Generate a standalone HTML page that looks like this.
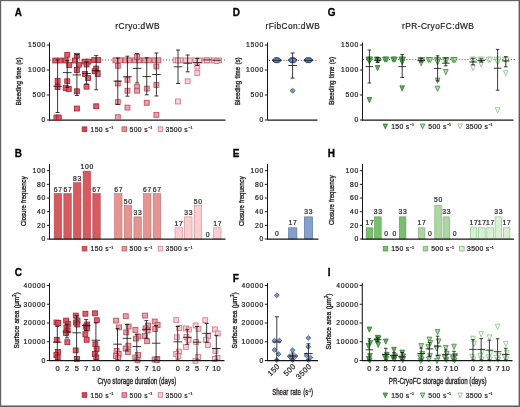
<!DOCTYPE html>
<html><head><meta charset="utf-8"><style>
html,body{margin:0;padding:0;background:#fff;}
body{width:520px;height:407px;overflow:hidden;position:relative;font-family:"Liberation Sans", sans-serif;}
svg{position:absolute;left:0;top:0;display:block;will-change:transform;}
</style></head><body>
<svg width="520" height="407" viewBox="0 0 520 407" font-family='"Liberation Sans", sans-serif'>
<style>text{stroke:#231f20;stroke-width:0.22px;} text.ttl{stroke-width:0.34px;}</style>
<rect x="0" y="0" width="520" height="407" fill="#fff"/>
<text transform="translate(14.7,15.7) scale(0.98,1)" font-size="10.2" font-weight="bold" fill="#000" style="stroke:#000;stroke-width:0.3px">A</text>
<text transform="translate(232.7,15.7) scale(0.98,1)" font-size="10.2" font-weight="bold" fill="#000" style="stroke:#000;stroke-width:0.3px">D</text>
<text transform="translate(327.7,15.7) scale(0.98,1)" font-size="10.2" font-weight="bold" fill="#000" style="stroke:#000;stroke-width:0.3px">G</text>
<text transform="translate(14.7,156.7) scale(0.98,1)" font-size="10.2" font-weight="bold" fill="#000" style="stroke:#000;stroke-width:0.3px">B</text>
<text transform="translate(232.7,156.7) scale(0.98,1)" font-size="10.2" font-weight="bold" fill="#000" style="stroke:#000;stroke-width:0.3px">E</text>
<text transform="translate(327.7,156.7) scale(0.98,1)" font-size="10.2" font-weight="bold" fill="#000" style="stroke:#000;stroke-width:0.3px">H</text>
<text transform="translate(14.7,275.7) scale(0.98,1)" font-size="10.2" font-weight="bold" fill="#000" style="stroke:#000;stroke-width:0.3px">C</text>
<text transform="translate(232.7,281.59999999999997) scale(0.98,1)" font-size="10.2" font-weight="bold" fill="#000" style="stroke:#000;stroke-width:0.3px">F</text>
<text transform="translate(327.7,275.7) scale(0.98,1)" font-size="10.2" font-weight="bold" fill="#000" style="stroke:#000;stroke-width:0.3px">I</text>
<text x="137.6" y="29.4" font-size="8.3" text-anchor="middle" font-weight="normal" fill="#231f20" letter-spacing="0.45">rCryo:dWB</text>
<text x="292.8" y="29.4" font-size="8.3" text-anchor="middle" font-weight="normal" fill="#231f20" letter-spacing="0.45">rFibCon:dWB</text>
<text x="438.2" y="29.4" font-size="8.3" text-anchor="middle" font-weight="normal" fill="#231f20" letter-spacing="0.45">rPR-CryoFC:dWB</text>
<line x1="49.5" y1="42.5" x2="49.5" y2="120.5" stroke="#151515" stroke-width="1.05" />
<line x1="46.8" y1="120.0" x2="49.5" y2="120.0" stroke="#151515" stroke-width="0.95" />
<text x="46.1" y="122.4" font-size="6.8" text-anchor="end" font-weight="normal" fill="#231f20" letter-spacing="0.75">0</text>
<line x1="46.8" y1="95.0" x2="49.5" y2="95.0" stroke="#151515" stroke-width="0.95" />
<text x="46.1" y="97.4" font-size="6.8" text-anchor="end" font-weight="normal" fill="#231f20" letter-spacing="0.75">500</text>
<line x1="46.8" y1="70.0" x2="49.5" y2="70.0" stroke="#151515" stroke-width="0.95" />
<text x="46.1" y="72.4" font-size="6.8" text-anchor="end" font-weight="normal" fill="#231f20" letter-spacing="0.75">1000</text>
<line x1="46.8" y1="45.0" x2="49.5" y2="45.0" stroke="#151515" stroke-width="0.95" />
<text x="46.1" y="47.4" font-size="6.8" text-anchor="end" font-weight="normal" fill="#231f20" letter-spacing="0.75">1500</text>
<text transform="translate(21.1,81.4) rotate(-90) scale(0.822,1)" font-size="7.6" text-anchor="middle" fill="#231f20" class="ttl" word-spacing="0.6">Bleeding time (s)</text>
<line x1="49.0" y1="120" x2="225.5" y2="120" stroke="#151515" stroke-width="1.25" />
<line x1="50" y1="60" x2="226.5" y2="60" stroke="#231f20" stroke-width="0.8" stroke-dasharray="1 1.9"/>
<line x1="267.5" y1="42.5" x2="267.5" y2="120.5" stroke="#151515" stroke-width="1.05" />
<line x1="264.8" y1="120.0" x2="267.5" y2="120.0" stroke="#151515" stroke-width="0.95" />
<text x="264.1" y="122.4" font-size="6.8" text-anchor="end" font-weight="normal" fill="#231f20" letter-spacing="0.75">0</text>
<line x1="264.8" y1="95.0" x2="267.5" y2="95.0" stroke="#151515" stroke-width="0.95" />
<text x="264.1" y="97.4" font-size="6.8" text-anchor="end" font-weight="normal" fill="#231f20" letter-spacing="0.75">500</text>
<line x1="264.8" y1="70.0" x2="267.5" y2="70.0" stroke="#151515" stroke-width="0.95" />
<text x="264.1" y="72.4" font-size="6.8" text-anchor="end" font-weight="normal" fill="#231f20" letter-spacing="0.75">1000</text>
<line x1="264.8" y1="45.0" x2="267.5" y2="45.0" stroke="#151515" stroke-width="0.95" />
<text x="264.1" y="47.4" font-size="6.8" text-anchor="end" font-weight="normal" fill="#231f20" letter-spacing="0.75">1500</text>
<text transform="translate(239.9,81.2) rotate(-90) scale(0.822,1)" font-size="7.6" text-anchor="middle" fill="#231f20" class="ttl" word-spacing="0.6">Bleeding time (s)</text>
<line x1="268.0" y1="120" x2="317.5" y2="120" stroke="#151515" stroke-width="1.25" />
<line x1="269" y1="60.4" x2="318" y2="60.4" stroke="#231f20" stroke-width="0.8" stroke-dasharray="1 1.9"/>
<line x1="362.5" y1="42.5" x2="362.5" y2="120.5" stroke="#151515" stroke-width="1.05" />
<line x1="359.8" y1="120.0" x2="362.5" y2="120.0" stroke="#151515" stroke-width="0.95" />
<text x="359.1" y="122.4" font-size="6.8" text-anchor="end" font-weight="normal" fill="#231f20" letter-spacing="0.75">0</text>
<line x1="359.8" y1="95.0" x2="362.5" y2="95.0" stroke="#151515" stroke-width="0.95" />
<text x="359.1" y="97.4" font-size="6.8" text-anchor="end" font-weight="normal" fill="#231f20" letter-spacing="0.75">500</text>
<line x1="359.8" y1="70.0" x2="362.5" y2="70.0" stroke="#151515" stroke-width="0.95" />
<text x="359.1" y="72.4" font-size="6.8" text-anchor="end" font-weight="normal" fill="#231f20" letter-spacing="0.75">1000</text>
<line x1="359.8" y1="45.0" x2="362.5" y2="45.0" stroke="#151515" stroke-width="0.95" />
<text x="359.1" y="47.4" font-size="6.8" text-anchor="end" font-weight="normal" fill="#231f20" letter-spacing="0.75">1500</text>
<text transform="translate(334.3,80.8) rotate(-90) scale(0.822,1)" font-size="7.6" text-anchor="middle" fill="#231f20" class="ttl" word-spacing="0.6">Bleeding time (s)</text>
<line x1="362.0" y1="120" x2="513.5" y2="120" stroke="#151515" stroke-width="1.25" />
<line x1="363" y1="59.6" x2="516" y2="59.6" stroke="#231f20" stroke-width="0.8" stroke-dasharray="1 1.9"/>
<rect x="52.75" y="58.05" width="4.9" height="4.9" fill="#da4352" stroke="#a32534" stroke-width="0.85" fill-opacity="0.85"/>
<rect x="57.55" y="58.05" width="4.9" height="4.9" fill="#da4352" stroke="#a32534" stroke-width="0.85" fill-opacity="0.85"/>
<rect x="55.15" y="78.55" width="4.9" height="4.9" fill="#da4352" stroke="#a32534" stroke-width="0.85" fill-opacity="0.85"/>
<rect x="55.15" y="84.55" width="4.9" height="4.9" fill="#da4352" stroke="#a32534" stroke-width="0.85" fill-opacity="0.85"/>
<rect x="53.95" y="115.05" width="4.9" height="4.9" fill="#da4352" stroke="#a32534" stroke-width="0.85" fill-opacity="0.85"/>
<rect x="56.35" y="115.05" width="4.9" height="4.9" fill="#da4352" stroke="#a32534" stroke-width="0.85" fill-opacity="0.85"/>
<rect x="64.80" y="52.35" width="4.9" height="4.9" fill="#da4352" stroke="#a32534" stroke-width="0.85" fill-opacity="0.85"/>
<rect x="63.30" y="58.05" width="4.9" height="4.9" fill="#da4352" stroke="#a32534" stroke-width="0.85" fill-opacity="0.85"/>
<rect x="66.80" y="62.55" width="4.9" height="4.9" fill="#da4352" stroke="#a32534" stroke-width="0.85" fill-opacity="0.85"/>
<rect x="64.80" y="78.85" width="4.9" height="4.9" fill="#da4352" stroke="#a32534" stroke-width="0.85" fill-opacity="0.85"/>
<rect x="63.30" y="85.55" width="4.9" height="4.9" fill="#da4352" stroke="#a32534" stroke-width="0.85" fill-opacity="0.85"/>
<rect x="66.30" y="86.55" width="4.9" height="4.9" fill="#da4352" stroke="#a32534" stroke-width="0.85" fill-opacity="0.85"/>
<rect x="74.45" y="53.45" width="4.9" height="4.9" fill="#da4352" stroke="#a32534" stroke-width="0.85" fill-opacity="0.85"/>
<rect x="72.45" y="58.05" width="4.9" height="4.9" fill="#da4352" stroke="#a32534" stroke-width="0.85" fill-opacity="0.85"/>
<rect x="76.45" y="62.25" width="4.9" height="4.9" fill="#da4352" stroke="#a32534" stroke-width="0.85" fill-opacity="0.85"/>
<rect x="74.45" y="67.55" width="4.9" height="4.9" fill="#da4352" stroke="#a32534" stroke-width="0.85" fill-opacity="0.85"/>
<rect x="74.45" y="88.85" width="4.9" height="4.9" fill="#da4352" stroke="#a32534" stroke-width="0.85" fill-opacity="0.85"/>
<rect x="74.45" y="106.05" width="4.9" height="4.9" fill="#da4352" stroke="#a32534" stroke-width="0.85" fill-opacity="0.85"/>
<rect x="82.10" y="59.15" width="4.9" height="4.9" fill="#da4352" stroke="#a32534" stroke-width="0.85" fill-opacity="0.85"/>
<rect x="86.10" y="59.15" width="4.9" height="4.9" fill="#da4352" stroke="#a32534" stroke-width="0.85" fill-opacity="0.85"/>
<rect x="84.10" y="62.05" width="4.9" height="4.9" fill="#da4352" stroke="#a32534" stroke-width="0.85" fill-opacity="0.85"/>
<rect x="82.60" y="71.55" width="4.9" height="4.9" fill="#da4352" stroke="#a32534" stroke-width="0.85" fill-opacity="0.85"/>
<rect x="85.60" y="75.55" width="4.9" height="4.9" fill="#da4352" stroke="#a32534" stroke-width="0.85" fill-opacity="0.85"/>
<rect x="84.10" y="84.25" width="4.9" height="4.9" fill="#da4352" stroke="#a32534" stroke-width="0.85" fill-opacity="0.85"/>
<rect x="91.75" y="57.65" width="4.9" height="4.9" fill="#da4352" stroke="#a32534" stroke-width="0.85" fill-opacity="0.85"/>
<rect x="95.75" y="57.65" width="4.9" height="4.9" fill="#da4352" stroke="#a32534" stroke-width="0.85" fill-opacity="0.85"/>
<rect x="93.75" y="66.05" width="4.9" height="4.9" fill="#da4352" stroke="#a32534" stroke-width="0.85" fill-opacity="0.85"/>
<rect x="92.25" y="68.75" width="4.9" height="4.9" fill="#da4352" stroke="#a32534" stroke-width="0.85" fill-opacity="0.85"/>
<rect x="95.25" y="71.55" width="4.9" height="4.9" fill="#da4352" stroke="#a32534" stroke-width="0.85" fill-opacity="0.85"/>
<rect x="93.75" y="103.85" width="4.9" height="4.9" fill="#da4352" stroke="#a32534" stroke-width="0.85" fill-opacity="0.85"/>
<rect x="112.95" y="57.85" width="4.9" height="4.9" fill="#ec9199" stroke="#b9505e" stroke-width="0.85" fill-opacity="0.85"/>
<rect x="117.75" y="57.85" width="4.9" height="4.9" fill="#ec9199" stroke="#b9505e" stroke-width="0.85" fill-opacity="0.85"/>
<rect x="115.35" y="63.35" width="4.9" height="4.9" fill="#ec9199" stroke="#b9505e" stroke-width="0.85" fill-opacity="0.85"/>
<rect x="115.35" y="81.05" width="4.9" height="4.9" fill="#ec9199" stroke="#b9505e" stroke-width="0.85" fill-opacity="0.85"/>
<rect x="115.35" y="99.65" width="4.9" height="4.9" fill="#ec9199" stroke="#b9505e" stroke-width="0.85" fill-opacity="0.85"/>
<rect x="115.35" y="114.75" width="4.9" height="4.9" fill="#ec9199" stroke="#b9505e" stroke-width="0.85" fill-opacity="0.85"/>
<rect x="123.20" y="57.85" width="4.9" height="4.9" fill="#ec9199" stroke="#b9505e" stroke-width="0.85" fill-opacity="0.85"/>
<rect x="126.80" y="57.85" width="4.9" height="4.9" fill="#ec9199" stroke="#b9505e" stroke-width="0.85" fill-opacity="0.85"/>
<rect x="125.00" y="77.35" width="4.9" height="4.9" fill="#ec9199" stroke="#b9505e" stroke-width="0.85" fill-opacity="0.85"/>
<rect x="125.00" y="88.25" width="4.9" height="4.9" fill="#ec9199" stroke="#b9505e" stroke-width="0.85" fill-opacity="0.85"/>
<rect x="125.00" y="105.15" width="4.9" height="4.9" fill="#ec9199" stroke="#b9505e" stroke-width="0.85" fill-opacity="0.85"/>
<rect x="132.65" y="57.85" width="4.9" height="4.9" fill="#ec9199" stroke="#b9505e" stroke-width="0.85" fill-opacity="0.85"/>
<rect x="136.65" y="57.85" width="4.9" height="4.9" fill="#ec9199" stroke="#b9505e" stroke-width="0.85" fill-opacity="0.85"/>
<rect x="134.65" y="54.55" width="4.9" height="4.9" fill="#ec9199" stroke="#b9505e" stroke-width="0.85" fill-opacity="0.85"/>
<rect x="134.65" y="84.25" width="4.9" height="4.9" fill="#ec9199" stroke="#b9505e" stroke-width="0.85" fill-opacity="0.85"/>
<rect x="134.65" y="88.25" width="4.9" height="4.9" fill="#ec9199" stroke="#b9505e" stroke-width="0.85" fill-opacity="0.85"/>
<rect x="142.30" y="57.85" width="4.9" height="4.9" fill="#ec9199" stroke="#b9505e" stroke-width="0.85" fill-opacity="0.85"/>
<rect x="146.30" y="57.85" width="4.9" height="4.9" fill="#ec9199" stroke="#b9505e" stroke-width="0.85" fill-opacity="0.85"/>
<rect x="144.30" y="86.15" width="4.9" height="4.9" fill="#ec9199" stroke="#b9505e" stroke-width="0.85" fill-opacity="0.85"/>
<rect x="144.30" y="100.35" width="4.9" height="4.9" fill="#ec9199" stroke="#b9505e" stroke-width="0.85" fill-opacity="0.85"/>
<rect x="151.95" y="57.85" width="4.9" height="4.9" fill="#ec9199" stroke="#b9505e" stroke-width="0.85" fill-opacity="0.85"/>
<rect x="155.95" y="57.85" width="4.9" height="4.9" fill="#ec9199" stroke="#b9505e" stroke-width="0.85" fill-opacity="0.85"/>
<rect x="153.95" y="64.05" width="4.9" height="4.9" fill="#ec9199" stroke="#b9505e" stroke-width="0.85" fill-opacity="0.85"/>
<rect x="153.95" y="82.45" width="4.9" height="4.9" fill="#ec9199" stroke="#b9505e" stroke-width="0.85" fill-opacity="0.85"/>
<rect x="153.95" y="112.35" width="4.9" height="4.9" fill="#ec9199" stroke="#b9505e" stroke-width="0.85" fill-opacity="0.85"/>
<rect x="173.05" y="57.95" width="4.9" height="4.9" fill="#f7c9ce" stroke="#cf7888" stroke-width="0.85" fill-opacity="0.85"/>
<rect x="178.05" y="57.95" width="4.9" height="4.9" fill="#f7c9ce" stroke="#cf7888" stroke-width="0.85" fill-opacity="0.85"/>
<rect x="175.55" y="57.95" width="4.9" height="4.9" fill="#f7c9ce" stroke="#cf7888" stroke-width="0.85" fill-opacity="0.85"/>
<rect x="175.55" y="99.05" width="4.9" height="4.9" fill="#f7c9ce" stroke="#cf7888" stroke-width="0.85" fill-opacity="0.85"/>
<rect x="183.20" y="57.95" width="4.9" height="4.9" fill="#f7c9ce" stroke="#cf7888" stroke-width="0.85" fill-opacity="0.85"/>
<rect x="187.20" y="57.95" width="4.9" height="4.9" fill="#f7c9ce" stroke="#cf7888" stroke-width="0.85" fill-opacity="0.85"/>
<rect x="185.20" y="78.85" width="4.9" height="4.9" fill="#f7c9ce" stroke="#cf7888" stroke-width="0.85" fill-opacity="0.85"/>
<rect x="192.85" y="57.95" width="4.9" height="4.9" fill="#f7c9ce" stroke="#cf7888" stroke-width="0.85" fill-opacity="0.85"/>
<rect x="196.85" y="57.95" width="4.9" height="4.9" fill="#f7c9ce" stroke="#cf7888" stroke-width="0.85" fill-opacity="0.85"/>
<rect x="194.85" y="64.15" width="4.9" height="4.9" fill="#f7c9ce" stroke="#cf7888" stroke-width="0.85" fill-opacity="0.85"/>
<rect x="194.85" y="70.45" width="4.9" height="4.9" fill="#f7c9ce" stroke="#cf7888" stroke-width="0.85" fill-opacity="0.85"/>
<rect x="202.00" y="57.95" width="4.9" height="4.9" fill="#f7c9ce" stroke="#cf7888" stroke-width="0.85" fill-opacity="0.85"/>
<rect x="207.00" y="57.95" width="4.9" height="4.9" fill="#f7c9ce" stroke="#cf7888" stroke-width="0.85" fill-opacity="0.85"/>
<rect x="204.50" y="57.95" width="4.9" height="4.9" fill="#f7c9ce" stroke="#cf7888" stroke-width="0.85" fill-opacity="0.85"/>
<rect x="211.65" y="57.95" width="4.9" height="4.9" fill="#f7c9ce" stroke="#cf7888" stroke-width="0.85" fill-opacity="0.85"/>
<rect x="216.65" y="57.95" width="4.9" height="4.9" fill="#f7c9ce" stroke="#cf7888" stroke-width="0.85" fill-opacity="0.85"/>
<rect x="214.15" y="58.55" width="4.9" height="4.9" fill="#f7c9ce" stroke="#cf7888" stroke-width="0.85" fill-opacity="0.85"/>
<line x1="57.6" y1="60" x2="57.6" y2="112.5" stroke="#161616" stroke-width="0.85" />
<line x1="55.6" y1="112.5" x2="59.6" y2="112.5" stroke="#161616" stroke-width="0.85" />
<line x1="55.6" y1="60" x2="59.6" y2="60" stroke="#161616" stroke-width="0.85" />
<line x1="53.300000000000004" y1="86.3" x2="61.9" y2="86.3" stroke="#161616" stroke-width="0.85" />
<line x1="67.25" y1="60.5" x2="67.25" y2="87.5" stroke="#161616" stroke-width="0.85" />
<line x1="65.25" y1="87.5" x2="69.25" y2="87.5" stroke="#161616" stroke-width="0.85" />
<line x1="65.25" y1="60.5" x2="69.25" y2="60.5" stroke="#161616" stroke-width="0.85" />
<line x1="62.95" y1="72.6" x2="71.55" y2="72.6" stroke="#161616" stroke-width="0.85" />
<line x1="76.9" y1="54.5" x2="76.9" y2="95.5" stroke="#161616" stroke-width="0.85" />
<line x1="74.9" y1="95.5" x2="78.9" y2="95.5" stroke="#161616" stroke-width="0.85" />
<line x1="74.9" y1="54.5" x2="78.9" y2="54.5" stroke="#161616" stroke-width="0.85" />
<line x1="72.60000000000001" y1="74.9" x2="81.2" y2="74.9" stroke="#161616" stroke-width="0.85" />
<line x1="86.55000000000001" y1="62" x2="86.55000000000001" y2="84" stroke="#161616" stroke-width="0.85" />
<line x1="84.55000000000001" y1="84" x2="88.55000000000001" y2="84" stroke="#161616" stroke-width="0.85" />
<line x1="84.55000000000001" y1="62" x2="88.55000000000001" y2="62" stroke="#161616" stroke-width="0.85" />
<line x1="82.25000000000001" y1="73.5" x2="90.85000000000001" y2="73.5" stroke="#161616" stroke-width="0.85" />
<line x1="96.2" y1="55.6" x2="96.2" y2="89.8" stroke="#161616" stroke-width="0.85" />
<line x1="94.2" y1="89.8" x2="98.2" y2="89.8" stroke="#161616" stroke-width="0.85" />
<line x1="94.2" y1="55.6" x2="98.2" y2="55.6" stroke="#161616" stroke-width="0.85" />
<line x1="91.9" y1="70.7" x2="100.5" y2="70.7" stroke="#161616" stroke-width="0.85" />
<line x1="117.80000000000001" y1="58" x2="117.80000000000001" y2="104.4" stroke="#161616" stroke-width="0.85" />
<line x1="115.80000000000001" y1="104.4" x2="119.80000000000001" y2="104.4" stroke="#161616" stroke-width="0.85" />
<line x1="115.80000000000001" y1="58" x2="119.80000000000001" y2="58" stroke="#161616" stroke-width="0.85" />
<line x1="113.50000000000001" y1="81.1" x2="122.10000000000001" y2="81.1" stroke="#161616" stroke-width="0.85" />
<line x1="127.45000000000002" y1="56.2" x2="127.45000000000002" y2="96.2" stroke="#161616" stroke-width="0.85" />
<line x1="125.45000000000002" y1="96.2" x2="129.45000000000002" y2="96.2" stroke="#161616" stroke-width="0.85" />
<line x1="125.45000000000002" y1="56.2" x2="129.45000000000002" y2="56.2" stroke="#161616" stroke-width="0.85" />
<line x1="123.15000000000002" y1="76.7" x2="131.75000000000003" y2="76.7" stroke="#161616" stroke-width="0.85" />
<line x1="137.10000000000002" y1="53.5" x2="137.10000000000002" y2="82.9" stroke="#161616" stroke-width="0.85" />
<line x1="135.10000000000002" y1="82.9" x2="139.10000000000002" y2="82.9" stroke="#161616" stroke-width="0.85" />
<line x1="135.10000000000002" y1="53.5" x2="139.10000000000002" y2="53.5" stroke="#161616" stroke-width="0.85" />
<line x1="132.8" y1="68.4" x2="141.40000000000003" y2="68.4" stroke="#161616" stroke-width="0.85" />
<line x1="146.75" y1="57.8" x2="146.75" y2="94.8" stroke="#161616" stroke-width="0.85" />
<line x1="144.75" y1="94.8" x2="148.75" y2="94.8" stroke="#161616" stroke-width="0.85" />
<line x1="144.75" y1="57.8" x2="148.75" y2="57.8" stroke="#161616" stroke-width="0.85" />
<line x1="142.45" y1="76.6" x2="151.05" y2="76.6" stroke="#161616" stroke-width="0.85" />
<line x1="156.4" y1="53" x2="156.4" y2="96" stroke="#161616" stroke-width="0.85" />
<line x1="154.4" y1="96" x2="158.4" y2="96" stroke="#161616" stroke-width="0.85" />
<line x1="154.4" y1="53" x2="158.4" y2="53" stroke="#161616" stroke-width="0.85" />
<line x1="152.1" y1="74.5" x2="160.70000000000002" y2="74.5" stroke="#161616" stroke-width="0.85" />
<line x1="178.0" y1="50" x2="178.0" y2="83.5" stroke="#161616" stroke-width="0.85" />
<line x1="176.0" y1="83.5" x2="180.0" y2="83.5" stroke="#161616" stroke-width="0.85" />
<line x1="176.0" y1="50" x2="180.0" y2="50" stroke="#161616" stroke-width="0.85" />
<line x1="173.7" y1="66.8" x2="182.3" y2="66.8" stroke="#161616" stroke-width="0.85" />
<line x1="187.65" y1="55" x2="187.65" y2="71.8" stroke="#161616" stroke-width="0.85" />
<line x1="185.65" y1="71.8" x2="189.65" y2="71.8" stroke="#161616" stroke-width="0.85" />
<line x1="185.65" y1="55" x2="189.65" y2="55" stroke="#161616" stroke-width="0.85" />
<line x1="183.35" y1="63.2" x2="191.95000000000002" y2="63.2" stroke="#161616" stroke-width="0.85" />
<line x1="197.3" y1="58.4" x2="197.3" y2="65.5" stroke="#161616" stroke-width="0.85" />
<line x1="195.3" y1="65.5" x2="199.3" y2="65.5" stroke="#161616" stroke-width="0.85" />
<line x1="195.3" y1="58.4" x2="199.3" y2="58.4" stroke="#161616" stroke-width="0.85" />
<line x1="193.0" y1="62.6" x2="201.60000000000002" y2="62.6" stroke="#161616" stroke-width="0.85" />
<line x1="202.64999999999998" y1="59.9" x2="211.25" y2="59.9" stroke="#161616" stroke-width="0.85" />
<line x1="212.29999999999998" y1="60.3" x2="220.9" y2="60.3" stroke="#161616" stroke-width="0.85" />
<path d="M272.20 60.2L274.80 57.800000000000004L278.80 57.800000000000004L281.40 60.2L278.80 62.6L274.80 62.6Z" fill="#5a79ad" stroke="#1f3d6e" stroke-width="1"/>
<path d="M274.60 60.2L279.00 60.2" stroke="#7f9ac8" stroke-width="0.8"/>
<line x1="272.5" y1="60.4" x2="281.1" y2="60.4" stroke="#161616" stroke-width="0.85" />
<path d="M292.60 88.25L295.17 90.70L292.60 93.15L290.03 90.70Z" fill="#7f98c8" stroke="#3d5d92" stroke-width="0.85"/>
<path d="M288.00 60.2L290.60 57.800000000000004L294.60 57.800000000000004L297.20 60.2L294.60 62.6L290.60 62.6Z" fill="#5a79ad" stroke="#1f3d6e" stroke-width="1"/>
<path d="M290.40 60.2L294.80 60.2" stroke="#7f9ac8" stroke-width="0.8"/>
<line x1="292.6" y1="53" x2="292.6" y2="78.1" stroke="#161616" stroke-width="0.85" />
<line x1="290.6" y1="78.1" x2="294.6" y2="78.1" stroke="#161616" stroke-width="0.85" />
<line x1="290.6" y1="53" x2="294.6" y2="53" stroke="#161616" stroke-width="0.85" />
<line x1="288.3" y1="65.5" x2="296.90000000000003" y2="65.5" stroke="#161616" stroke-width="0.85" />
<path d="M303.80 60.2L306.40 57.800000000000004L310.40 57.800000000000004L313.00 60.2L310.40 62.6L306.40 62.6Z" fill="#5a79ad" stroke="#1f3d6e" stroke-width="1"/>
<path d="M306.20 60.2L310.60 60.2" stroke="#7f9ac8" stroke-width="0.8"/>
<line x1="304.09999999999997" y1="60.4" x2="312.7" y2="60.4" stroke="#161616" stroke-width="0.85" />
<path d="M366.15 57.00L370.85 57.00L368.50 62.20Z" fill="#64ab62" stroke="#377f36" stroke-width="0.8"/>
<path d="M367.95 57.00L372.65 57.00L370.30 62.20Z" fill="#64ab62" stroke="#377f36" stroke-width="0.8"/>
<path d="M367.05 58.70L371.75 58.70L369.40 63.90Z" fill="#64ab62" stroke="#377f36" stroke-width="0.8"/>
<path d="M367.05 97.50L371.75 97.50L369.40 102.70Z" fill="#64ab62" stroke="#377f36" stroke-width="0.8"/>
<path d="M374.35 57.00L379.05 57.00L376.70 62.20Z" fill="#64ab62" stroke="#377f36" stroke-width="0.8"/>
<path d="M376.15 57.70L380.85 57.70L378.50 62.90Z" fill="#64ab62" stroke="#377f36" stroke-width="0.8"/>
<path d="M375.25 65.50L379.95 65.50L377.60 70.70Z" fill="#64ab62" stroke="#377f36" stroke-width="0.8"/>
<path d="M382.55 57.00L387.25 57.00L384.90 62.20Z" fill="#64ab62" stroke="#377f36" stroke-width="0.8"/>
<path d="M384.35 57.00L389.05 57.00L386.70 62.20Z" fill="#64ab62" stroke="#377f36" stroke-width="0.8"/>
<path d="M390.75 57.00L395.45 57.00L393.10 62.20Z" fill="#64ab62" stroke="#377f36" stroke-width="0.8"/>
<path d="M392.55 57.00L397.25 57.00L394.90 62.20Z" fill="#64ab62" stroke="#377f36" stroke-width="0.8"/>
<path d="M398.95 57.00L403.65 57.00L401.30 62.20Z" fill="#64ab62" stroke="#377f36" stroke-width="0.8"/>
<path d="M400.75 57.00L405.45 57.00L403.10 62.20Z" fill="#64ab62" stroke="#377f36" stroke-width="0.8"/>
<path d="M399.85 59.70L404.55 59.70L402.20 64.90Z" fill="#64ab62" stroke="#377f36" stroke-width="0.8"/>
<path d="M399.85 85.80L404.55 85.80L402.20 91.00Z" fill="#64ab62" stroke="#377f36" stroke-width="0.8"/>
<path d="M417.95 57.50L422.65 57.50L420.30 62.70Z" fill="#b2dcaa" stroke="#3f8a3c" stroke-width="0.8"/>
<path d="M419.75 57.50L424.45 57.50L422.10 62.70Z" fill="#b2dcaa" stroke="#3f8a3c" stroke-width="0.8"/>
<path d="M418.85 60.70L423.55 60.70L421.20 65.90Z" fill="#b2dcaa" stroke="#3f8a3c" stroke-width="0.8"/>
<path d="M426.15 57.50L430.85 57.50L428.50 62.70Z" fill="#b2dcaa" stroke="#3f8a3c" stroke-width="0.8"/>
<path d="M427.95 57.50L432.65 57.50L430.30 62.70Z" fill="#b2dcaa" stroke="#3f8a3c" stroke-width="0.8"/>
<path d="M434.35 57.50L439.05 57.50L436.70 62.70Z" fill="#b2dcaa" stroke="#3f8a3c" stroke-width="0.8"/>
<path d="M436.15 57.70L440.85 57.70L438.50 62.90Z" fill="#b2dcaa" stroke="#3f8a3c" stroke-width="0.8"/>
<path d="M435.25 59.70L439.95 59.70L437.60 64.90Z" fill="#b2dcaa" stroke="#3f8a3c" stroke-width="0.8"/>
<path d="M435.25 78.10L439.95 78.10L437.60 83.30Z" fill="#b2dcaa" stroke="#3f8a3c" stroke-width="0.8"/>
<path d="M435.25 86.20L439.95 86.20L437.60 91.40Z" fill="#b2dcaa" stroke="#3f8a3c" stroke-width="0.8"/>
<path d="M442.55 57.50L447.25 57.50L444.90 62.70Z" fill="#b2dcaa" stroke="#3f8a3c" stroke-width="0.8"/>
<path d="M444.35 57.50L449.05 57.50L446.70 62.70Z" fill="#b2dcaa" stroke="#3f8a3c" stroke-width="0.8"/>
<path d="M443.45 69.50L448.15 69.50L445.80 74.70Z" fill="#b2dcaa" stroke="#3f8a3c" stroke-width="0.8"/>
<path d="M450.75 57.50L455.45 57.50L453.10 62.70Z" fill="#b2dcaa" stroke="#3f8a3c" stroke-width="0.8"/>
<path d="M452.55 57.50L457.25 57.50L454.90 62.70Z" fill="#b2dcaa" stroke="#3f8a3c" stroke-width="0.8"/>
<path d="M469.75 57.20L474.45 57.20L472.10 62.40Z" fill="#ffffff" stroke="#7cc477" stroke-width="0.8"/>
<path d="M471.55 57.20L476.25 57.20L473.90 62.40Z" fill="#ffffff" stroke="#7cc477" stroke-width="0.8"/>
<path d="M470.65 65.30L475.35 65.30L473.00 70.50Z" fill="#ffffff" stroke="#7cc477" stroke-width="0.8"/>
<path d="M477.95 57.20L482.65 57.20L480.30 62.40Z" fill="#ffffff" stroke="#7cc477" stroke-width="0.8"/>
<path d="M479.75 57.20L484.45 57.20L482.10 62.40Z" fill="#ffffff" stroke="#7cc477" stroke-width="0.8"/>
<path d="M478.85 61.70L483.55 61.70L481.20 66.90Z" fill="#ffffff" stroke="#7cc477" stroke-width="0.8"/>
<path d="M486.15 57.20L490.85 57.20L488.50 62.40Z" fill="#ffffff" stroke="#7cc477" stroke-width="0.8"/>
<path d="M487.95 57.20L492.65 57.20L490.30 62.40Z" fill="#ffffff" stroke="#7cc477" stroke-width="0.8"/>
<path d="M494.35 57.20L499.05 57.20L496.70 62.40Z" fill="#ffffff" stroke="#7cc477" stroke-width="0.8"/>
<path d="M496.15 57.20L500.85 57.20L498.50 62.40Z" fill="#ffffff" stroke="#7cc477" stroke-width="0.8"/>
<path d="M495.25 59.70L499.95 59.70L497.60 64.90Z" fill="#ffffff" stroke="#7cc477" stroke-width="0.8"/>
<path d="M495.25 107.70L499.95 107.70L497.60 112.90Z" fill="#ffffff" stroke="#7cc477" stroke-width="0.8"/>
<path d="M502.55 57.20L507.25 57.20L504.90 62.40Z" fill="#ffffff" stroke="#7cc477" stroke-width="0.8"/>
<path d="M504.35 57.20L509.05 57.20L506.70 62.40Z" fill="#ffffff" stroke="#7cc477" stroke-width="0.8"/>
<path d="M503.45 70.70L508.15 70.70L505.80 75.90Z" fill="#ffffff" stroke="#7cc477" stroke-width="0.8"/>
<line x1="369.4" y1="50" x2="369.4" y2="83" stroke="#161616" stroke-width="0.85" />
<line x1="367.59999999999997" y1="83" x2="371.2" y2="83" stroke="#161616" stroke-width="0.85" />
<line x1="367.59999999999997" y1="50" x2="371.2" y2="50" stroke="#161616" stroke-width="0.85" />
<line x1="365.59999999999997" y1="66.6" x2="373.2" y2="66.6" stroke="#161616" stroke-width="0.85" />
<line x1="377.59999999999997" y1="57.5" x2="377.59999999999997" y2="62.5" stroke="#161616" stroke-width="0.85" />
<line x1="375.79999999999995" y1="62.5" x2="379.4" y2="62.5" stroke="#161616" stroke-width="0.85" />
<line x1="375.79999999999995" y1="57.5" x2="379.4" y2="57.5" stroke="#161616" stroke-width="0.85" />
<line x1="373.79999999999995" y1="60.3" x2="381.4" y2="60.3" stroke="#161616" stroke-width="0.85" />
<line x1="402.2" y1="54.6" x2="402.2" y2="77.5" stroke="#161616" stroke-width="0.85" />
<line x1="400.4" y1="77.5" x2="404.0" y2="77.5" stroke="#161616" stroke-width="0.85" />
<line x1="400.4" y1="54.6" x2="404.0" y2="54.6" stroke="#161616" stroke-width="0.85" />
<line x1="398.4" y1="66.6" x2="406.0" y2="66.6" stroke="#161616" stroke-width="0.85" />
<line x1="421.2" y1="58.5" x2="421.2" y2="62" stroke="#161616" stroke-width="0.85" />
<line x1="419.4" y1="62" x2="423.0" y2="62" stroke="#161616" stroke-width="0.85" />
<line x1="419.4" y1="58.5" x2="423.0" y2="58.5" stroke="#161616" stroke-width="0.85" />
<line x1="417.4" y1="60.5" x2="425.0" y2="60.5" stroke="#161616" stroke-width="0.85" />
<line x1="437.59999999999997" y1="55.8" x2="437.59999999999997" y2="80.9" stroke="#161616" stroke-width="0.85" />
<line x1="435.79999999999995" y1="80.9" x2="439.4" y2="80.9" stroke="#161616" stroke-width="0.85" />
<line x1="435.79999999999995" y1="55.8" x2="439.4" y2="55.8" stroke="#161616" stroke-width="0.85" />
<line x1="433.79999999999995" y1="68.4" x2="441.4" y2="68.4" stroke="#161616" stroke-width="0.85" />
<line x1="445.8" y1="58" x2="445.8" y2="65.8" stroke="#161616" stroke-width="0.85" />
<line x1="444.0" y1="65.8" x2="447.6" y2="65.8" stroke="#161616" stroke-width="0.85" />
<line x1="444.0" y1="58" x2="447.6" y2="58" stroke="#161616" stroke-width="0.85" />
<line x1="442.0" y1="63.2" x2="449.6" y2="63.2" stroke="#161616" stroke-width="0.85" />
<line x1="473.0" y1="58.4" x2="473.0" y2="64.7" stroke="#161616" stroke-width="0.85" />
<line x1="471.2" y1="64.7" x2="474.8" y2="64.7" stroke="#161616" stroke-width="0.85" />
<line x1="471.2" y1="58.4" x2="474.8" y2="58.4" stroke="#161616" stroke-width="0.85" />
<line x1="469.2" y1="62" x2="476.8" y2="62" stroke="#161616" stroke-width="0.85" />
<line x1="481.2" y1="58.8" x2="481.2" y2="62.2" stroke="#161616" stroke-width="0.85" />
<line x1="479.4" y1="62.2" x2="483.0" y2="62.2" stroke="#161616" stroke-width="0.85" />
<line x1="479.4" y1="58.8" x2="483.0" y2="58.8" stroke="#161616" stroke-width="0.85" />
<line x1="477.4" y1="60.5" x2="485.0" y2="60.5" stroke="#161616" stroke-width="0.85" />
<line x1="497.6" y1="49.4" x2="497.6" y2="90.2" stroke="#161616" stroke-width="0.85" />
<line x1="495.8" y1="90.2" x2="499.40000000000003" y2="90.2" stroke="#161616" stroke-width="0.85" />
<line x1="495.8" y1="49.4" x2="499.40000000000003" y2="49.4" stroke="#161616" stroke-width="0.85" />
<line x1="493.8" y1="68.2" x2="501.40000000000003" y2="68.2" stroke="#161616" stroke-width="0.85" />
<line x1="505.8" y1="56.7" x2="505.8" y2="66.8" stroke="#161616" stroke-width="0.85" />
<line x1="504.0" y1="66.8" x2="507.6" y2="66.8" stroke="#161616" stroke-width="0.85" />
<line x1="504.0" y1="56.7" x2="507.6" y2="56.7" stroke="#161616" stroke-width="0.85" />
<line x1="502.0" y1="60.9" x2="509.6" y2="60.9" stroke="#161616" stroke-width="0.85" />
<rect x="82.2" y="126.89999999999999" width="4.6" height="4.6" fill="#da4352" stroke="#a32534" stroke-width="0.8"/>
<text x="90.6" y="131.7" font-size="6.8" text-anchor="start" font-weight="normal" fill="#231f20" letter-spacing="0.35">150 s<tspan font-size="3.6" dy="-2.6" dx="0.2" letter-spacing="0">−1</tspan></text>
<rect x="122.0" y="126.89999999999999" width="4.6" height="4.6" fill="#ec9199" stroke="#b9505e" stroke-width="0.8"/>
<text x="129.6" y="131.7" font-size="6.8" text-anchor="start" font-weight="normal" fill="#231f20" letter-spacing="0.35">500 s<tspan font-size="3.6" dy="-2.6" dx="0.2" letter-spacing="0">−1</tspan></text>
<rect x="158.2" y="126.89999999999999" width="4.6" height="4.6" fill="#f7c9ce" stroke="#cf7888" stroke-width="0.8"/>
<text x="165.6" y="131.7" font-size="6.8" text-anchor="start" font-weight="normal" fill="#231f20" letter-spacing="0.35">3500 s<tspan font-size="3.6" dy="-2.6" dx="0.2" letter-spacing="0">−1</tspan></text>
<path d="M383 124.0L387.6 124.0L385.3 128.8Z" fill="#64ab62" stroke="#377f36" stroke-width="0.8"/>
<text x="391.2" y="128.7" font-size="6.8" text-anchor="start" font-weight="normal" fill="#231f20" letter-spacing="0.35">150 s<tspan font-size="3.6" dy="-2.6" dx="0.2" letter-spacing="0">−1</tspan></text>
<path d="M420.3 124.0L424.90000000000003 124.0L422.6 128.8Z" fill="#b2dcaa" stroke="#3f8a3c" stroke-width="0.8"/>
<text x="428.3" y="128.7" font-size="6.8" text-anchor="start" font-weight="normal" fill="#231f20" letter-spacing="0.35">500 s<tspan font-size="3.6" dy="-2.6" dx="0.2" letter-spacing="0">−1</tspan></text>
<path d="M457.8 124.0L462.40000000000003 124.0L460.1 128.8Z" fill="#ffffff" stroke="#7cc477" stroke-width="0.8"/>
<text x="465.7" y="128.7" font-size="6.8" text-anchor="start" font-weight="normal" fill="#231f20" letter-spacing="0.35">3500 s<tspan font-size="3.6" dy="-2.6" dx="0.2" letter-spacing="0">−1</tspan></text>
<line x1="49.5" y1="164" x2="49.5" y2="239.5" stroke="#151515" stroke-width="1.05" />
<line x1="46.8" y1="239.0" x2="49.5" y2="239.0" stroke="#151515" stroke-width="0.95" />
<text x="46.1" y="241.4" font-size="6.8" text-anchor="end" font-weight="normal" fill="#231f20" letter-spacing="0.75">0</text>
<line x1="46.8" y1="225.34" x2="49.5" y2="225.34" stroke="#151515" stroke-width="0.95" />
<text x="46.1" y="227.74" font-size="6.8" text-anchor="end" font-weight="normal" fill="#231f20" letter-spacing="0.75">20</text>
<line x1="46.8" y1="211.68" x2="49.5" y2="211.68" stroke="#151515" stroke-width="0.95" />
<text x="46.1" y="214.08" font-size="6.8" text-anchor="end" font-weight="normal" fill="#231f20" letter-spacing="0.75">40</text>
<line x1="46.8" y1="198.01999999999998" x2="49.5" y2="198.01999999999998" stroke="#151515" stroke-width="0.95" />
<text x="46.1" y="200.42" font-size="6.8" text-anchor="end" font-weight="normal" fill="#231f20" letter-spacing="0.75">60</text>
<line x1="46.8" y1="184.36" x2="49.5" y2="184.36" stroke="#151515" stroke-width="0.95" />
<text x="46.1" y="186.76000000000002" font-size="6.8" text-anchor="end" font-weight="normal" fill="#231f20" letter-spacing="0.75">80</text>
<line x1="46.8" y1="170.7" x2="49.5" y2="170.7" stroke="#151515" stroke-width="0.95" />
<text x="46.1" y="173.1" font-size="6.8" text-anchor="end" font-weight="normal" fill="#231f20" letter-spacing="0.75">100</text>
<text transform="translate(26.1,201.2) rotate(-90) scale(0.801,1)" font-size="7.6" text-anchor="middle" fill="#231f20" class="ttl" word-spacing="0.6">Closure frequency</text>
<line x1="267.5" y1="164" x2="267.5" y2="239.5" stroke="#151515" stroke-width="1.05" />
<line x1="264.8" y1="239.0" x2="267.5" y2="239.0" stroke="#151515" stroke-width="0.95" />
<text x="264.1" y="241.4" font-size="6.8" text-anchor="end" font-weight="normal" fill="#231f20" letter-spacing="0.75">0</text>
<line x1="264.8" y1="225.34" x2="267.5" y2="225.34" stroke="#151515" stroke-width="0.95" />
<text x="264.1" y="227.74" font-size="6.8" text-anchor="end" font-weight="normal" fill="#231f20" letter-spacing="0.75">20</text>
<line x1="264.8" y1="211.68" x2="267.5" y2="211.68" stroke="#151515" stroke-width="0.95" />
<text x="264.1" y="214.08" font-size="6.8" text-anchor="end" font-weight="normal" fill="#231f20" letter-spacing="0.75">40</text>
<line x1="264.8" y1="198.01999999999998" x2="267.5" y2="198.01999999999998" stroke="#151515" stroke-width="0.95" />
<text x="264.1" y="200.42" font-size="6.8" text-anchor="end" font-weight="normal" fill="#231f20" letter-spacing="0.75">60</text>
<line x1="264.8" y1="184.36" x2="267.5" y2="184.36" stroke="#151515" stroke-width="0.95" />
<text x="264.1" y="186.76000000000002" font-size="6.8" text-anchor="end" font-weight="normal" fill="#231f20" letter-spacing="0.75">80</text>
<line x1="264.8" y1="170.7" x2="267.5" y2="170.7" stroke="#151515" stroke-width="0.95" />
<text x="264.1" y="173.1" font-size="6.8" text-anchor="end" font-weight="normal" fill="#231f20" letter-spacing="0.75">100</text>
<text transform="translate(244.3,201.2) rotate(-90) scale(0.801,1)" font-size="7.6" text-anchor="middle" fill="#231f20" class="ttl" word-spacing="0.6">Closure frequency</text>
<line x1="362.5" y1="164" x2="362.5" y2="239.5" stroke="#151515" stroke-width="1.05" />
<line x1="359.8" y1="239.0" x2="362.5" y2="239.0" stroke="#151515" stroke-width="0.95" />
<text x="359.1" y="241.4" font-size="6.8" text-anchor="end" font-weight="normal" fill="#231f20" letter-spacing="0.75">0</text>
<line x1="359.8" y1="225.34" x2="362.5" y2="225.34" stroke="#151515" stroke-width="0.95" />
<text x="359.1" y="227.74" font-size="6.8" text-anchor="end" font-weight="normal" fill="#231f20" letter-spacing="0.75">20</text>
<line x1="359.8" y1="211.68" x2="362.5" y2="211.68" stroke="#151515" stroke-width="0.95" />
<text x="359.1" y="214.08" font-size="6.8" text-anchor="end" font-weight="normal" fill="#231f20" letter-spacing="0.75">40</text>
<line x1="359.8" y1="198.01999999999998" x2="362.5" y2="198.01999999999998" stroke="#151515" stroke-width="0.95" />
<text x="359.1" y="200.42" font-size="6.8" text-anchor="end" font-weight="normal" fill="#231f20" letter-spacing="0.75">60</text>
<line x1="359.8" y1="184.36" x2="362.5" y2="184.36" stroke="#151515" stroke-width="0.95" />
<text x="359.1" y="186.76000000000002" font-size="6.8" text-anchor="end" font-weight="normal" fill="#231f20" letter-spacing="0.75">80</text>
<line x1="359.8" y1="170.7" x2="362.5" y2="170.7" stroke="#151515" stroke-width="0.95" />
<text x="359.1" y="173.1" font-size="6.8" text-anchor="end" font-weight="normal" fill="#231f20" letter-spacing="0.75">100</text>
<text transform="translate(334.3,200.2) rotate(-90) scale(0.801,1)" font-size="7.6" text-anchor="middle" fill="#231f20" class="ttl" word-spacing="0.6">Closure frequency</text>
<rect x="54.20" y="193.64" width="7.4" height="45.36" fill="#d75a5e" stroke="#b43c48" stroke-width="0.6"/>
<text x="58.25" y="191.94" font-size="6.8" text-anchor="middle" font-weight="normal" fill="#231f20" letter-spacing="0.7">67</text>
<rect x="63.85" y="193.64" width="7.4" height="45.36" fill="#d75a5e" stroke="#b43c48" stroke-width="0.6"/>
<text x="67.90" y="191.94" font-size="6.8" text-anchor="middle" font-weight="normal" fill="#231f20" letter-spacing="0.7">67</text>
<rect x="73.50" y="182.71" width="7.4" height="56.29" fill="#d75a5e" stroke="#b43c48" stroke-width="0.6"/>
<text x="77.55" y="181.01" font-size="6.8" text-anchor="middle" font-weight="normal" fill="#231f20" letter-spacing="0.7">83</text>
<rect x="83.15" y="171.10" width="7.4" height="67.90" fill="#d75a5e" stroke="#b43c48" stroke-width="0.6"/>
<text x="87.20" y="169.40" font-size="6.8" text-anchor="middle" font-weight="normal" fill="#231f20" letter-spacing="0.7">100</text>
<rect x="92.80" y="193.64" width="7.4" height="45.36" fill="#d75a5e" stroke="#b43c48" stroke-width="0.6"/>
<text x="96.85" y="191.94" font-size="6.8" text-anchor="middle" font-weight="normal" fill="#231f20" letter-spacing="0.7">67</text>
<rect x="114.60" y="193.64" width="7.4" height="45.36" fill="#e6948f" stroke="#c66a6c" stroke-width="0.6"/>
<text x="118.65" y="191.94" font-size="6.8" text-anchor="middle" font-weight="normal" fill="#231f20" letter-spacing="0.7">67</text>
<rect x="124.25" y="205.25" width="7.4" height="33.75" fill="#e6948f" stroke="#c66a6c" stroke-width="0.6"/>
<text x="128.30" y="203.55" font-size="6.8" text-anchor="middle" font-weight="normal" fill="#231f20" letter-spacing="0.7">50</text>
<rect x="133.90" y="216.86" width="7.4" height="22.14" fill="#e6948f" stroke="#c66a6c" stroke-width="0.6"/>
<text x="137.95" y="215.16" font-size="6.8" text-anchor="middle" font-weight="normal" fill="#231f20" letter-spacing="0.7">33</text>
<rect x="143.55" y="193.64" width="7.4" height="45.36" fill="#e6948f" stroke="#c66a6c" stroke-width="0.6"/>
<text x="147.60" y="191.94" font-size="6.8" text-anchor="middle" font-weight="normal" fill="#231f20" letter-spacing="0.7">67</text>
<rect x="153.20" y="193.64" width="7.4" height="45.36" fill="#e6948f" stroke="#c66a6c" stroke-width="0.6"/>
<text x="157.25" y="191.94" font-size="6.8" text-anchor="middle" font-weight="normal" fill="#231f20" letter-spacing="0.7">67</text>
<rect x="175.00" y="227.79" width="7.4" height="11.21" fill="#f9d0cf" stroke="#d4848e" stroke-width="0.6"/>
<text x="179.05" y="226.09" font-size="6.8" text-anchor="middle" font-weight="normal" fill="#231f20" letter-spacing="0.7">17</text>
<rect x="184.65" y="216.86" width="7.4" height="22.14" fill="#f9d0cf" stroke="#d4848e" stroke-width="0.6"/>
<text x="188.70" y="215.16" font-size="6.8" text-anchor="middle" font-weight="normal" fill="#231f20" letter-spacing="0.7">33</text>
<rect x="194.30" y="205.25" width="7.4" height="33.75" fill="#f9d0cf" stroke="#d4848e" stroke-width="0.6"/>
<text x="198.35" y="203.55" font-size="6.8" text-anchor="middle" font-weight="normal" fill="#231f20" letter-spacing="0.7">50</text>
<text x="208.00" y="236.50" font-size="6.8" text-anchor="middle" font-weight="normal" fill="#231f20" letter-spacing="0.7">0</text>
<rect x="213.60" y="227.79" width="7.4" height="11.21" fill="#f9d0cf" stroke="#d4848e" stroke-width="0.6"/>
<text x="217.65" y="226.09" font-size="6.8" text-anchor="middle" font-weight="normal" fill="#231f20" letter-spacing="0.7">17</text>
<text x="277.25" y="236.20" font-size="6.8" text-anchor="middle" font-weight="normal" fill="#231f20" letter-spacing="0.7">0</text>
<rect x="288.50" y="227.79" width="8.4" height="11.21" fill="#86a0cc" stroke="#56709e" stroke-width="0.6"/>
<text x="293.05" y="224.59" font-size="6.8" text-anchor="middle" font-weight="normal" fill="#231f20" letter-spacing="0.7">17</text>
<rect x="304.30" y="216.86" width="8.4" height="22.14" fill="#86a0cc" stroke="#56709e" stroke-width="0.6"/>
<text x="308.85" y="213.66" font-size="6.8" text-anchor="middle" font-weight="normal" fill="#231f20" letter-spacing="0.7">33</text>
<rect x="366.30" y="227.79" width="6.6" height="11.21" fill="#78c06e" stroke="#4f9c4c" stroke-width="0.6"/>
<text x="369.95" y="224.69" font-size="6.8" text-anchor="middle" font-weight="normal" fill="#231f20" letter-spacing="0.7">17</text>
<rect x="374.55" y="216.86" width="6.6" height="22.14" fill="#78c06e" stroke="#4f9c4c" stroke-width="0.6"/>
<text x="378.20" y="213.76" font-size="6.8" text-anchor="middle" font-weight="normal" fill="#231f20" letter-spacing="0.7">33</text>
<text x="386.45" y="236.30" font-size="6.8" text-anchor="middle" font-weight="normal" fill="#231f20" letter-spacing="0.7">0</text>
<text x="394.70" y="236.30" font-size="6.8" text-anchor="middle" font-weight="normal" fill="#231f20" letter-spacing="0.7">0</text>
<rect x="399.30" y="216.86" width="6.6" height="22.14" fill="#78c06e" stroke="#4f9c4c" stroke-width="0.6"/>
<text x="402.95" y="213.76" font-size="6.8" text-anchor="middle" font-weight="normal" fill="#231f20" letter-spacing="0.7">33</text>
<rect x="418.30" y="227.79" width="6.6" height="11.21" fill="#abd8a1" stroke="#80a67d" stroke-width="0.6"/>
<text x="421.95" y="224.69" font-size="6.8" text-anchor="middle" font-weight="normal" fill="#231f20" letter-spacing="0.7">17</text>
<text x="430.20" y="236.30" font-size="6.8" text-anchor="middle" font-weight="normal" fill="#231f20" letter-spacing="0.7">0</text>
<rect x="434.80" y="205.25" width="6.6" height="33.75" fill="#abd8a1" stroke="#80a67d" stroke-width="0.6"/>
<text x="438.45" y="202.15" font-size="6.8" text-anchor="middle" font-weight="normal" fill="#231f20" letter-spacing="0.7">50</text>
<rect x="443.05" y="216.86" width="6.6" height="22.14" fill="#abd8a1" stroke="#80a67d" stroke-width="0.6"/>
<text x="446.70" y="213.76" font-size="6.8" text-anchor="middle" font-weight="normal" fill="#231f20" letter-spacing="0.7">33</text>
<text x="454.95" y="236.30" font-size="6.8" text-anchor="middle" font-weight="normal" fill="#231f20" letter-spacing="0.7">0</text>
<rect x="470.30" y="227.79" width="6.6" height="11.21" fill="#d9f0d4" stroke="#7fbf79" stroke-width="0.6"/>
<text x="473.95" y="224.69" font-size="6.8" text-anchor="middle" font-weight="normal" fill="#231f20" letter-spacing="0.7">17</text>
<rect x="478.55" y="227.79" width="6.6" height="11.21" fill="#d9f0d4" stroke="#7fbf79" stroke-width="0.6"/>
<text x="482.20" y="224.69" font-size="6.8" text-anchor="middle" font-weight="normal" fill="#231f20" letter-spacing="0.7">17</text>
<rect x="486.80" y="227.79" width="6.6" height="11.21" fill="#d9f0d4" stroke="#7fbf79" stroke-width="0.6"/>
<text x="490.45" y="224.69" font-size="6.8" text-anchor="middle" font-weight="normal" fill="#231f20" letter-spacing="0.7">17</text>
<rect x="495.05" y="216.86" width="6.6" height="22.14" fill="#d9f0d4" stroke="#7fbf79" stroke-width="0.6"/>
<text x="498.70" y="213.76" font-size="6.8" text-anchor="middle" font-weight="normal" fill="#231f20" letter-spacing="0.7">33</text>
<rect x="503.30" y="227.79" width="6.6" height="11.21" fill="#d9f0d4" stroke="#7fbf79" stroke-width="0.6"/>
<text x="506.95" y="224.69" font-size="6.8" text-anchor="middle" font-weight="normal" fill="#231f20" letter-spacing="0.7">17</text>
<line x1="49.0" y1="239" x2="225.5" y2="239" stroke="#151515" stroke-width="1.25" />
<line x1="267.0" y1="239" x2="318.5" y2="239" stroke="#151515" stroke-width="1.25" />
<line x1="362.0" y1="239" x2="514" y2="239" stroke="#151515" stroke-width="1.25" />
<rect x="82.2" y="246.39999999999998" width="4.6" height="4.6" fill="#d75a5e" stroke="#b43c48" stroke-width="0.8"/>
<text x="90.6" y="251.2" font-size="6.8" text-anchor="start" font-weight="normal" fill="#231f20" letter-spacing="0.35">150 s<tspan font-size="3.6" dy="-2.6" dx="0.2" letter-spacing="0">−1</tspan></text>
<rect x="122.0" y="246.39999999999998" width="4.6" height="4.6" fill="#e6948f" stroke="#c66a6c" stroke-width="0.8"/>
<text x="129.6" y="251.2" font-size="6.8" text-anchor="start" font-weight="normal" fill="#231f20" letter-spacing="0.35">500 s<tspan font-size="3.6" dy="-2.6" dx="0.2" letter-spacing="0">−1</tspan></text>
<rect x="158.2" y="246.39999999999998" width="4.6" height="4.6" fill="#f9d0cf" stroke="#d4848e" stroke-width="0.8"/>
<text x="165.6" y="251.2" font-size="6.8" text-anchor="start" font-weight="normal" fill="#231f20" letter-spacing="0.35">3500 s<tspan font-size="3.6" dy="-2.6" dx="0.2" letter-spacing="0">−1</tspan></text>
<rect x="383.2" y="246.39999999999998" width="4.6" height="4.6" fill="#78c06e" stroke="#4f9c4c" stroke-width="0.8"/>
<text x="391.2" y="251.2" font-size="6.8" text-anchor="start" font-weight="normal" fill="#231f20" letter-spacing="0.35">150 s<tspan font-size="3.6" dy="-2.6" dx="0.2" letter-spacing="0">−1</tspan></text>
<rect x="423.2" y="246.39999999999998" width="4.6" height="4.6" fill="#abd8a1" stroke="#80a67d" stroke-width="0.8"/>
<text x="431.2" y="251.2" font-size="6.8" text-anchor="start" font-weight="normal" fill="#231f20" letter-spacing="0.35">500 s<tspan font-size="3.6" dy="-2.6" dx="0.2" letter-spacing="0">−1</tspan></text>
<rect x="459.5" y="246.39999999999998" width="4.6" height="4.6" fill="#d9f0d4" stroke="#7fbf79" stroke-width="0.8"/>
<text x="467" y="251.2" font-size="6.8" text-anchor="start" font-weight="normal" fill="#231f20" letter-spacing="0.35">3500 s<tspan font-size="3.6" dy="-2.6" dx="0.2" letter-spacing="0">−1</tspan></text>
<line x1="49.5" y1="283" x2="49.5" y2="361.0" stroke="#151515" stroke-width="1.05" />
<line x1="46.8" y1="360.5" x2="49.5" y2="360.5" stroke="#151515" stroke-width="0.95" />
<text x="46.1" y="362.9" font-size="6.8" text-anchor="end" font-weight="normal" fill="#231f20" letter-spacing="0.75">0</text>
<line x1="46.8" y1="341.75" x2="49.5" y2="341.75" stroke="#151515" stroke-width="0.95" />
<text x="46.1" y="344.15" font-size="6.8" text-anchor="end" font-weight="normal" fill="#231f20" letter-spacing="0.75">10000</text>
<line x1="46.8" y1="323.0" x2="49.5" y2="323.0" stroke="#151515" stroke-width="0.95" />
<text x="46.1" y="325.4" font-size="6.8" text-anchor="end" font-weight="normal" fill="#231f20" letter-spacing="0.75">20000</text>
<line x1="46.8" y1="304.25" x2="49.5" y2="304.25" stroke="#151515" stroke-width="0.95" />
<text x="46.1" y="306.65" font-size="6.8" text-anchor="end" font-weight="normal" fill="#231f20" letter-spacing="0.75">30000</text>
<line x1="46.8" y1="285.5" x2="49.5" y2="285.5" stroke="#151515" stroke-width="0.95" />
<text x="46.1" y="287.9" font-size="6.8" text-anchor="end" font-weight="normal" fill="#231f20" letter-spacing="0.75">40000</text>
<text transform="translate(18.5,320.4) rotate(-90) scale(0.860,1)" font-size="7.6" text-anchor="middle" fill="#231f20" class="ttl" word-spacing="0.6">Surface area (μm<tspan font-size="4.8" dy="-2.6">2</tspan><tspan dy="2.6">)</tspan></text>
<line x1="267.5" y1="283" x2="267.5" y2="361.0" stroke="#151515" stroke-width="1.05" />
<line x1="264.8" y1="360.5" x2="267.5" y2="360.5" stroke="#151515" stroke-width="0.95" />
<text x="264.1" y="362.9" font-size="6.8" text-anchor="end" font-weight="normal" fill="#231f20" letter-spacing="0.75">0</text>
<line x1="264.8" y1="341.75" x2="267.5" y2="341.75" stroke="#151515" stroke-width="0.95" />
<text x="264.1" y="344.15" font-size="6.8" text-anchor="end" font-weight="normal" fill="#231f20" letter-spacing="0.75">10000</text>
<line x1="264.8" y1="323.0" x2="267.5" y2="323.0" stroke="#151515" stroke-width="0.95" />
<text x="264.1" y="325.4" font-size="6.8" text-anchor="end" font-weight="normal" fill="#231f20" letter-spacing="0.75">20000</text>
<line x1="264.8" y1="304.25" x2="267.5" y2="304.25" stroke="#151515" stroke-width="0.95" />
<text x="264.1" y="306.65" font-size="6.8" text-anchor="end" font-weight="normal" fill="#231f20" letter-spacing="0.75">30000</text>
<line x1="264.8" y1="285.5" x2="267.5" y2="285.5" stroke="#151515" stroke-width="0.95" />
<text x="264.1" y="287.9" font-size="6.8" text-anchor="end" font-weight="normal" fill="#231f20" letter-spacing="0.75">40000</text>
<text transform="translate(236.5,320.4) rotate(-90) scale(0.860,1)" font-size="7.6" text-anchor="middle" fill="#231f20" class="ttl" word-spacing="0.6">Surface area (μm<tspan font-size="4.8" dy="-2.6">2</tspan><tspan dy="2.6">)</tspan></text>
<line x1="362.3" y1="283" x2="362.3" y2="361.0" stroke="#151515" stroke-width="1.05" />
<line x1="359.6" y1="360.5" x2="362.3" y2="360.5" stroke="#151515" stroke-width="0.95" />
<text x="358.90000000000003" y="362.9" font-size="6.8" text-anchor="end" font-weight="normal" fill="#231f20" letter-spacing="0.75">0</text>
<line x1="359.6" y1="341.75" x2="362.3" y2="341.75" stroke="#151515" stroke-width="0.95" />
<text x="358.90000000000003" y="344.15" font-size="6.8" text-anchor="end" font-weight="normal" fill="#231f20" letter-spacing="0.75">10000</text>
<line x1="359.6" y1="323.0" x2="362.3" y2="323.0" stroke="#151515" stroke-width="0.95" />
<text x="358.90000000000003" y="325.4" font-size="6.8" text-anchor="end" font-weight="normal" fill="#231f20" letter-spacing="0.75">20000</text>
<line x1="359.6" y1="304.25" x2="362.3" y2="304.25" stroke="#151515" stroke-width="0.95" />
<text x="358.90000000000003" y="306.65" font-size="6.8" text-anchor="end" font-weight="normal" fill="#231f20" letter-spacing="0.75">30000</text>
<line x1="359.6" y1="285.5" x2="362.3" y2="285.5" stroke="#151515" stroke-width="0.95" />
<text x="358.90000000000003" y="287.9" font-size="6.8" text-anchor="end" font-weight="normal" fill="#231f20" letter-spacing="0.75">40000</text>
<text transform="translate(330.7,321.5) rotate(-90) scale(0.860,1)" font-size="7.6" text-anchor="middle" fill="#231f20" class="ttl" word-spacing="0.6">Surface area (μm<tspan font-size="4.8" dy="-2.6">2</tspan><tspan dy="2.6">)</tspan></text>
<rect x="54.01" y="320.05" width="4.9" height="4.9" fill="#da4352" stroke="#a32534" stroke-width="0.85" fill-opacity="0.85"/>
<rect x="55.75" y="320.55" width="4.9" height="4.9" fill="#da4352" stroke="#a32534" stroke-width="0.85" fill-opacity="0.85"/>
<rect x="54.31" y="337.35" width="4.9" height="4.9" fill="#da4352" stroke="#a32534" stroke-width="0.85" fill-opacity="0.85"/>
<rect x="55.57" y="349.55" width="4.9" height="4.9" fill="#da4352" stroke="#a32534" stroke-width="0.85" fill-opacity="0.85"/>
<rect x="53.95" y="352.55" width="4.9" height="4.9" fill="#da4352" stroke="#a32534" stroke-width="0.85" fill-opacity="0.85"/>
<rect x="55.27" y="355.05" width="4.9" height="4.9" fill="#da4352" stroke="#a32534" stroke-width="0.85" fill-opacity="0.85"/>
<rect x="63.66" y="318.15" width="4.9" height="4.9" fill="#da4352" stroke="#a32534" stroke-width="0.85" fill-opacity="0.85"/>
<rect x="65.40" y="321.55" width="4.9" height="4.9" fill="#da4352" stroke="#a32534" stroke-width="0.85" fill-opacity="0.85"/>
<rect x="63.96" y="324.95" width="4.9" height="4.9" fill="#da4352" stroke="#a32534" stroke-width="0.85" fill-opacity="0.85"/>
<rect x="65.22" y="327.95" width="4.9" height="4.9" fill="#da4352" stroke="#a32534" stroke-width="0.85" fill-opacity="0.85"/>
<rect x="63.60" y="330.55" width="4.9" height="4.9" fill="#da4352" stroke="#a32534" stroke-width="0.85" fill-opacity="0.85"/>
<rect x="64.92" y="339.75" width="4.9" height="4.9" fill="#da4352" stroke="#a32534" stroke-width="0.85" fill-opacity="0.85"/>
<rect x="73.31" y="313.15" width="4.9" height="4.9" fill="#da4352" stroke="#a32534" stroke-width="0.85" fill-opacity="0.85"/>
<rect x="75.05" y="318.05" width="4.9" height="4.9" fill="#da4352" stroke="#a32534" stroke-width="0.85" fill-opacity="0.85"/>
<rect x="73.61" y="320.05" width="4.9" height="4.9" fill="#da4352" stroke="#a32534" stroke-width="0.85" fill-opacity="0.85"/>
<rect x="74.87" y="322.05" width="4.9" height="4.9" fill="#da4352" stroke="#a32534" stroke-width="0.85" fill-opacity="0.85"/>
<rect x="73.25" y="347.95" width="4.9" height="4.9" fill="#da4352" stroke="#a32534" stroke-width="0.85" fill-opacity="0.85"/>
<rect x="74.57" y="356.45" width="4.9" height="4.9" fill="#da4352" stroke="#a32534" stroke-width="0.85" fill-opacity="0.85"/>
<rect x="82.96" y="311.25" width="4.9" height="4.9" fill="#da4352" stroke="#a32534" stroke-width="0.85" fill-opacity="0.85"/>
<rect x="84.70" y="322.05" width="4.9" height="4.9" fill="#da4352" stroke="#a32534" stroke-width="0.85" fill-opacity="0.85"/>
<rect x="83.26" y="324.05" width="4.9" height="4.9" fill="#da4352" stroke="#a32534" stroke-width="0.85" fill-opacity="0.85"/>
<rect x="84.52" y="326.05" width="4.9" height="4.9" fill="#da4352" stroke="#a32534" stroke-width="0.85" fill-opacity="0.85"/>
<rect x="82.90" y="331.85" width="4.9" height="4.9" fill="#da4352" stroke="#a32534" stroke-width="0.85" fill-opacity="0.85"/>
<rect x="84.22" y="337.35" width="4.9" height="4.9" fill="#da4352" stroke="#a32534" stroke-width="0.85" fill-opacity="0.85"/>
<rect x="92.61" y="310.85" width="4.9" height="4.9" fill="#da4352" stroke="#a32534" stroke-width="0.85" fill-opacity="0.85"/>
<rect x="94.35" y="317.75" width="4.9" height="4.9" fill="#da4352" stroke="#a32534" stroke-width="0.85" fill-opacity="0.85"/>
<rect x="92.91" y="341.75" width="4.9" height="4.9" fill="#da4352" stroke="#a32534" stroke-width="0.85" fill-opacity="0.85"/>
<rect x="94.17" y="346.55" width="4.9" height="4.9" fill="#da4352" stroke="#a32534" stroke-width="0.85" fill-opacity="0.85"/>
<rect x="92.55" y="351.55" width="4.9" height="4.9" fill="#da4352" stroke="#a32534" stroke-width="0.85" fill-opacity="0.85"/>
<rect x="93.87" y="355.05" width="4.9" height="4.9" fill="#da4352" stroke="#a32534" stroke-width="0.85" fill-opacity="0.85"/>
<rect x="113.65" y="318.15" width="4.9" height="4.9" fill="#ec9199" stroke="#b9505e" stroke-width="0.85" fill-opacity="0.85"/>
<rect x="116.55" y="324.95" width="4.9" height="4.9" fill="#ec9199" stroke="#b9505e" stroke-width="0.85" fill-opacity="0.85"/>
<rect x="114.15" y="348.55" width="4.9" height="4.9" fill="#ec9199" stroke="#b9505e" stroke-width="0.85" fill-opacity="0.85"/>
<rect x="116.25" y="351.55" width="4.9" height="4.9" fill="#ec9199" stroke="#b9505e" stroke-width="0.85" fill-opacity="0.85"/>
<rect x="113.55" y="353.55" width="4.9" height="4.9" fill="#ec9199" stroke="#b9505e" stroke-width="0.85" fill-opacity="0.85"/>
<rect x="115.75" y="355.55" width="4.9" height="4.9" fill="#ec9199" stroke="#b9505e" stroke-width="0.85" fill-opacity="0.85"/>
<rect x="123.30" y="313.75" width="4.9" height="4.9" fill="#ec9199" stroke="#b9505e" stroke-width="0.85" fill-opacity="0.85"/>
<rect x="126.20" y="324.05" width="4.9" height="4.9" fill="#ec9199" stroke="#b9505e" stroke-width="0.85" fill-opacity="0.85"/>
<rect x="123.80" y="329.95" width="4.9" height="4.9" fill="#ec9199" stroke="#b9505e" stroke-width="0.85" fill-opacity="0.85"/>
<rect x="125.90" y="343.25" width="4.9" height="4.9" fill="#ec9199" stroke="#b9505e" stroke-width="0.85" fill-opacity="0.85"/>
<rect x="123.20" y="346.05" width="4.9" height="4.9" fill="#ec9199" stroke="#b9505e" stroke-width="0.85" fill-opacity="0.85"/>
<rect x="125.40" y="349.55" width="4.9" height="4.9" fill="#ec9199" stroke="#b9505e" stroke-width="0.85" fill-opacity="0.85"/>
<rect x="132.95" y="327.55" width="4.9" height="4.9" fill="#ec9199" stroke="#b9505e" stroke-width="0.85" fill-opacity="0.85"/>
<rect x="135.85" y="334.05" width="4.9" height="4.9" fill="#ec9199" stroke="#b9505e" stroke-width="0.85" fill-opacity="0.85"/>
<rect x="133.45" y="336.15" width="4.9" height="4.9" fill="#ec9199" stroke="#b9505e" stroke-width="0.85" fill-opacity="0.85"/>
<rect x="135.55" y="352.55" width="4.9" height="4.9" fill="#ec9199" stroke="#b9505e" stroke-width="0.85" fill-opacity="0.85"/>
<rect x="132.85" y="355.05" width="4.9" height="4.9" fill="#ec9199" stroke="#b9505e" stroke-width="0.85" fill-opacity="0.85"/>
<rect x="135.05" y="357.55" width="4.9" height="4.9" fill="#ec9199" stroke="#b9505e" stroke-width="0.85" fill-opacity="0.85"/>
<rect x="142.60" y="313.15" width="4.9" height="4.9" fill="#ec9199" stroke="#b9505e" stroke-width="0.85" fill-opacity="0.85"/>
<rect x="145.50" y="323.05" width="4.9" height="4.9" fill="#ec9199" stroke="#b9505e" stroke-width="0.85" fill-opacity="0.85"/>
<rect x="143.10" y="325.95" width="4.9" height="4.9" fill="#ec9199" stroke="#b9505e" stroke-width="0.85" fill-opacity="0.85"/>
<rect x="145.20" y="328.05" width="4.9" height="4.9" fill="#ec9199" stroke="#b9505e" stroke-width="0.85" fill-opacity="0.85"/>
<rect x="142.50" y="333.55" width="4.9" height="4.9" fill="#ec9199" stroke="#b9505e" stroke-width="0.85" fill-opacity="0.85"/>
<rect x="144.70" y="338.75" width="4.9" height="4.9" fill="#ec9199" stroke="#b9505e" stroke-width="0.85" fill-opacity="0.85"/>
<rect x="152.25" y="319.05" width="4.9" height="4.9" fill="#ec9199" stroke="#b9505e" stroke-width="0.85" fill-opacity="0.85"/>
<rect x="155.15" y="322.55" width="4.9" height="4.9" fill="#ec9199" stroke="#b9505e" stroke-width="0.85" fill-opacity="0.85"/>
<rect x="152.75" y="326.55" width="4.9" height="4.9" fill="#ec9199" stroke="#b9505e" stroke-width="0.85" fill-opacity="0.85"/>
<rect x="154.85" y="356.45" width="4.9" height="4.9" fill="#ec9199" stroke="#b9505e" stroke-width="0.85" fill-opacity="0.85"/>
<rect x="152.15" y="357.05" width="4.9" height="4.9" fill="#ec9199" stroke="#b9505e" stroke-width="0.85" fill-opacity="0.85"/>
<rect x="154.35" y="357.55" width="4.9" height="4.9" fill="#ec9199" stroke="#b9505e" stroke-width="0.85" fill-opacity="0.85"/>
<rect x="173.85" y="317.75" width="4.9" height="4.9" fill="#f7c9ce" stroke="#cf7888" stroke-width="0.85" fill-opacity="0.85"/>
<rect x="176.75" y="325.55" width="4.9" height="4.9" fill="#f7c9ce" stroke="#cf7888" stroke-width="0.85" fill-opacity="0.85"/>
<rect x="174.35" y="334.85" width="4.9" height="4.9" fill="#f7c9ce" stroke="#cf7888" stroke-width="0.85" fill-opacity="0.85"/>
<rect x="176.45" y="349.15" width="4.9" height="4.9" fill="#f7c9ce" stroke="#cf7888" stroke-width="0.85" fill-opacity="0.85"/>
<rect x="173.75" y="351.55" width="4.9" height="4.9" fill="#f7c9ce" stroke="#cf7888" stroke-width="0.85" fill-opacity="0.85"/>
<rect x="175.95" y="353.55" width="4.9" height="4.9" fill="#f7c9ce" stroke="#cf7888" stroke-width="0.85" fill-opacity="0.85"/>
<rect x="183.50" y="325.95" width="4.9" height="4.9" fill="#f7c9ce" stroke="#cf7888" stroke-width="0.85" fill-opacity="0.85"/>
<rect x="186.40" y="327.05" width="4.9" height="4.9" fill="#f7c9ce" stroke="#cf7888" stroke-width="0.85" fill-opacity="0.85"/>
<rect x="184.00" y="334.55" width="4.9" height="4.9" fill="#f7c9ce" stroke="#cf7888" stroke-width="0.85" fill-opacity="0.85"/>
<rect x="186.10" y="337.35" width="4.9" height="4.9" fill="#f7c9ce" stroke="#cf7888" stroke-width="0.85" fill-opacity="0.85"/>
<rect x="183.40" y="344.65" width="4.9" height="4.9" fill="#f7c9ce" stroke="#cf7888" stroke-width="0.85" fill-opacity="0.85"/>
<rect x="193.15" y="323.05" width="4.9" height="4.9" fill="#f7c9ce" stroke="#cf7888" stroke-width="0.85" fill-opacity="0.85"/>
<rect x="196.05" y="326.35" width="4.9" height="4.9" fill="#f7c9ce" stroke="#cf7888" stroke-width="0.85" fill-opacity="0.85"/>
<rect x="193.65" y="339.55" width="4.9" height="4.9" fill="#f7c9ce" stroke="#cf7888" stroke-width="0.85" fill-opacity="0.85"/>
<rect x="195.75" y="354.55" width="4.9" height="4.9" fill="#f7c9ce" stroke="#cf7888" stroke-width="0.85" fill-opacity="0.85"/>
<rect x="193.05" y="358.45" width="4.9" height="4.9" fill="#f7c9ce" stroke="#cf7888" stroke-width="0.85" fill-opacity="0.85"/>
<rect x="202.80" y="317.75" width="4.9" height="4.9" fill="#f7c9ce" stroke="#cf7888" stroke-width="0.85" fill-opacity="0.85"/>
<rect x="205.70" y="333.85" width="4.9" height="4.9" fill="#f7c9ce" stroke="#cf7888" stroke-width="0.85" fill-opacity="0.85"/>
<rect x="203.30" y="337.35" width="4.9" height="4.9" fill="#f7c9ce" stroke="#cf7888" stroke-width="0.85" fill-opacity="0.85"/>
<rect x="205.40" y="342.65" width="4.9" height="4.9" fill="#f7c9ce" stroke="#cf7888" stroke-width="0.85" fill-opacity="0.85"/>
<rect x="212.45" y="326.95" width="4.9" height="4.9" fill="#f7c9ce" stroke="#cf7888" stroke-width="0.85" fill-opacity="0.85"/>
<rect x="215.35" y="331.05" width="4.9" height="4.9" fill="#f7c9ce" stroke="#cf7888" stroke-width="0.85" fill-opacity="0.85"/>
<rect x="212.95" y="348.55" width="4.9" height="4.9" fill="#f7c9ce" stroke="#cf7888" stroke-width="0.85" fill-opacity="0.85"/>
<rect x="215.05" y="355.45" width="4.9" height="4.9" fill="#f7c9ce" stroke="#cf7888" stroke-width="0.85" fill-opacity="0.85"/>
<rect x="212.35" y="356.55" width="4.9" height="4.9" fill="#f7c9ce" stroke="#cf7888" stroke-width="0.85" fill-opacity="0.85"/>
<line x1="57.300000000000004" y1="326.5" x2="57.300000000000004" y2="360" stroke="#161616" stroke-width="0.85" />
<line x1="55.300000000000004" y1="360" x2="59.300000000000004" y2="360" stroke="#161616" stroke-width="0.85" />
<line x1="55.300000000000004" y1="326.5" x2="59.300000000000004" y2="326.5" stroke="#161616" stroke-width="0.85" />
<line x1="53.00000000000001" y1="342.2" x2="61.6" y2="342.2" stroke="#161616" stroke-width="0.85" />
<line x1="66.95" y1="324.1" x2="66.95" y2="337.9" stroke="#161616" stroke-width="0.85" />
<line x1="64.95" y1="337.9" x2="68.95" y2="337.9" stroke="#161616" stroke-width="0.85" />
<line x1="64.95" y1="324.1" x2="68.95" y2="324.1" stroke="#161616" stroke-width="0.85" />
<line x1="62.650000000000006" y1="332" x2="71.25" y2="332" stroke="#161616" stroke-width="0.85" />
<line x1="76.60000000000001" y1="315.6" x2="76.60000000000001" y2="360" stroke="#161616" stroke-width="0.85" />
<line x1="74.60000000000001" y1="360" x2="78.60000000000001" y2="360" stroke="#161616" stroke-width="0.85" />
<line x1="74.60000000000001" y1="315.6" x2="78.60000000000001" y2="315.6" stroke="#161616" stroke-width="0.85" />
<line x1="72.30000000000001" y1="332.8" x2="80.9" y2="332.8" stroke="#161616" stroke-width="0.85" />
<line x1="86.25000000000001" y1="319.6" x2="86.25000000000001" y2="330.4" stroke="#161616" stroke-width="0.85" />
<line x1="84.25000000000001" y1="330.4" x2="88.25000000000001" y2="330.4" stroke="#161616" stroke-width="0.85" />
<line x1="84.25000000000001" y1="319.6" x2="88.25000000000001" y2="319.6" stroke="#161616" stroke-width="0.85" />
<line x1="81.95000000000002" y1="325.5" x2="90.55000000000001" y2="325.5" stroke="#161616" stroke-width="0.85" />
<line x1="95.9" y1="322.9" x2="95.9" y2="360" stroke="#161616" stroke-width="0.85" />
<line x1="93.9" y1="360" x2="97.9" y2="360" stroke="#161616" stroke-width="0.85" />
<line x1="93.9" y1="322.9" x2="97.9" y2="322.9" stroke="#161616" stroke-width="0.85" />
<line x1="91.60000000000001" y1="340.2" x2="100.2" y2="340.2" stroke="#161616" stroke-width="0.85" />
<line x1="117.50000000000001" y1="328.4" x2="117.50000000000001" y2="360" stroke="#161616" stroke-width="0.85" />
<line x1="115.50000000000001" y1="360" x2="119.50000000000001" y2="360" stroke="#161616" stroke-width="0.85" />
<line x1="115.50000000000001" y1="328.4" x2="119.50000000000001" y2="328.4" stroke="#161616" stroke-width="0.85" />
<line x1="113.20000000000002" y1="344.2" x2="121.80000000000001" y2="344.2" stroke="#161616" stroke-width="0.85" />
<line x1="127.15000000000002" y1="324.5" x2="127.15000000000002" y2="351" stroke="#161616" stroke-width="0.85" />
<line x1="125.15000000000002" y1="351" x2="129.15000000000003" y2="351" stroke="#161616" stroke-width="0.85" />
<line x1="125.15000000000002" y1="324.5" x2="129.15000000000003" y2="324.5" stroke="#161616" stroke-width="0.85" />
<line x1="122.85000000000002" y1="338.3" x2="131.45000000000002" y2="338.3" stroke="#161616" stroke-width="0.85" />
<line x1="136.8" y1="334.3" x2="136.8" y2="360" stroke="#161616" stroke-width="0.85" />
<line x1="134.8" y1="360" x2="138.8" y2="360" stroke="#161616" stroke-width="0.85" />
<line x1="134.8" y1="334.3" x2="138.8" y2="334.3" stroke="#161616" stroke-width="0.85" />
<line x1="132.5" y1="346.5" x2="141.10000000000002" y2="346.5" stroke="#161616" stroke-width="0.85" />
<line x1="146.45" y1="320.6" x2="146.45" y2="338.3" stroke="#161616" stroke-width="0.85" />
<line x1="144.45" y1="338.3" x2="148.45" y2="338.3" stroke="#161616" stroke-width="0.85" />
<line x1="144.45" y1="320.6" x2="148.45" y2="320.6" stroke="#161616" stroke-width="0.85" />
<line x1="142.14999999999998" y1="329.4" x2="150.75" y2="329.4" stroke="#161616" stroke-width="0.85" />
<line x1="156.1" y1="325.5" x2="156.1" y2="360" stroke="#161616" stroke-width="0.85" />
<line x1="154.1" y1="360" x2="158.1" y2="360" stroke="#161616" stroke-width="0.85" />
<line x1="154.1" y1="325.5" x2="158.1" y2="325.5" stroke="#161616" stroke-width="0.85" />
<line x1="151.79999999999998" y1="343.2" x2="160.4" y2="343.2" stroke="#161616" stroke-width="0.85" />
<line x1="177.7" y1="326.5" x2="177.7" y2="360" stroke="#161616" stroke-width="0.85" />
<line x1="175.7" y1="360" x2="179.7" y2="360" stroke="#161616" stroke-width="0.85" />
<line x1="175.7" y1="326.5" x2="179.7" y2="326.5" stroke="#161616" stroke-width="0.85" />
<line x1="173.39999999999998" y1="341.8" x2="182.0" y2="341.8" stroke="#161616" stroke-width="0.85" />
<line x1="187.35" y1="329.4" x2="187.35" y2="344.2" stroke="#161616" stroke-width="0.85" />
<line x1="185.35" y1="344.2" x2="189.35" y2="344.2" stroke="#161616" stroke-width="0.85" />
<line x1="185.35" y1="329.4" x2="189.35" y2="329.4" stroke="#161616" stroke-width="0.85" />
<line x1="183.04999999999998" y1="337.3" x2="191.65" y2="337.3" stroke="#161616" stroke-width="0.85" />
<line x1="197.0" y1="326.5" x2="197.0" y2="360" stroke="#161616" stroke-width="0.85" />
<line x1="195.0" y1="360" x2="199.0" y2="360" stroke="#161616" stroke-width="0.85" />
<line x1="195.0" y1="326.5" x2="199.0" y2="326.5" stroke="#161616" stroke-width="0.85" />
<line x1="192.7" y1="342.2" x2="201.3" y2="342.2" stroke="#161616" stroke-width="0.85" />
<line x1="206.64999999999998" y1="323.5" x2="206.64999999999998" y2="342.2" stroke="#161616" stroke-width="0.85" />
<line x1="204.64999999999998" y1="342.2" x2="208.64999999999998" y2="342.2" stroke="#161616" stroke-width="0.85" />
<line x1="204.64999999999998" y1="323.5" x2="208.64999999999998" y2="323.5" stroke="#161616" stroke-width="0.85" />
<line x1="202.34999999999997" y1="333.3" x2="210.95" y2="333.3" stroke="#161616" stroke-width="0.85" />
<line x1="216.29999999999998" y1="335.3" x2="216.29999999999998" y2="360" stroke="#161616" stroke-width="0.85" />
<line x1="214.29999999999998" y1="360" x2="218.29999999999998" y2="360" stroke="#161616" stroke-width="0.85" />
<line x1="214.29999999999998" y1="335.3" x2="218.29999999999998" y2="335.3" stroke="#161616" stroke-width="0.85" />
<line x1="211.99999999999997" y1="348.5" x2="220.6" y2="348.5" stroke="#161616" stroke-width="0.85" />
<path d="M276.80 292.95L279.27 295.30L276.80 297.65L274.33 295.30Z" fill="#7f98c8" stroke="#3d5d92" stroke-width="0.85"/>
<path d="M274.50 338.25L276.97 340.60L274.50 342.95L272.03 340.60Z" fill="#7f98c8" stroke="#3d5d92" stroke-width="0.85"/>
<path d="M279.40 338.25L281.87 340.60L279.40 342.95L276.93 340.60Z" fill="#7f98c8" stroke="#3d5d92" stroke-width="0.85"/>
<path d="M274.50 347.55L276.97 349.90L274.50 352.25L272.03 349.90Z" fill="#7f98c8" stroke="#3d5d92" stroke-width="0.85"/>
<path d="M278.50 351.75L280.97 354.10L278.50 356.45L276.03 354.10Z" fill="#7f98c8" stroke="#3d5d92" stroke-width="0.85"/>
<path d="M276.80 357.65L279.27 360.00L276.80 362.35L274.33 360.00Z" fill="#7f98c8" stroke="#3d5d92" stroke-width="0.85"/>
<path d="M292.60 347.85L295.07 350.20L292.60 352.55L290.13 350.20Z" fill="#7f98c8" stroke="#3d5d92" stroke-width="0.85"/>
<path d="M289.60 353.95L292.07 356.30L289.60 358.65L287.13 356.30Z" fill="#7f98c8" stroke="#3d5d92" stroke-width="0.85"/>
<path d="M292.60 353.95L295.07 356.30L292.60 358.65L290.13 356.30Z" fill="#7f98c8" stroke="#3d5d92" stroke-width="0.85"/>
<path d="M295.60 353.95L298.07 356.30L295.60 358.65L293.13 356.30Z" fill="#7f98c8" stroke="#3d5d92" stroke-width="0.85"/>
<path d="M291.60 356.15L294.07 358.50L291.60 360.85L289.13 358.50Z" fill="#7f98c8" stroke="#3d5d92" stroke-width="0.85"/>
<path d="M292.60 357.65L295.07 360.00L292.60 362.35L290.13 360.00Z" fill="#7f98c8" stroke="#3d5d92" stroke-width="0.85"/>
<path d="M308.40 335.55L310.87 337.90L308.40 340.25L305.93 337.90Z" fill="#7f98c8" stroke="#3d5d92" stroke-width="0.85"/>
<path d="M308.40 344.35L310.87 346.70L308.40 349.05L305.93 346.70Z" fill="#7f98c8" stroke="#3d5d92" stroke-width="0.85"/>
<path d="M306.40 353.05L308.87 355.40L306.40 357.75L303.93 355.40Z" fill="#7f98c8" stroke="#3d5d92" stroke-width="0.85"/>
<path d="M310.40 355.15L312.87 357.50L310.40 359.85L307.93 357.50Z" fill="#7f98c8" stroke="#3d5d92" stroke-width="0.85"/>
<path d="M308.40 357.65L310.87 360.00L308.40 362.35L305.93 360.00Z" fill="#7f98c8" stroke="#3d5d92" stroke-width="0.85"/>
<line x1="276.8" y1="316.8" x2="276.8" y2="360" stroke="#161616" stroke-width="0.85" />
<line x1="274.8" y1="360" x2="278.8" y2="360" stroke="#161616" stroke-width="0.85" />
<line x1="274.8" y1="316.8" x2="278.8" y2="316.8" stroke="#161616" stroke-width="0.85" />
<line x1="272.5" y1="342" x2="281.1" y2="342" stroke="#161616" stroke-width="0.85" />
<line x1="292.6" y1="353" x2="292.6" y2="359" stroke="#161616" stroke-width="0.85" />
<line x1="290.6" y1="359" x2="294.6" y2="359" stroke="#161616" stroke-width="0.85" />
<line x1="290.6" y1="353" x2="294.6" y2="353" stroke="#161616" stroke-width="0.85" />
<line x1="288.3" y1="356" x2="296.90000000000003" y2="356" stroke="#161616" stroke-width="0.85" />
<line x1="308.4" y1="343.8" x2="308.4" y2="360" stroke="#161616" stroke-width="0.85" />
<line x1="306.4" y1="360" x2="310.4" y2="360" stroke="#161616" stroke-width="0.85" />
<line x1="306.4" y1="343.8" x2="310.4" y2="343.8" stroke="#161616" stroke-width="0.85" />
<line x1="304.09999999999997" y1="353.5" x2="312.7" y2="353.5" stroke="#161616" stroke-width="0.85" />
<path d="M367.05 327.00L371.75 327.00L369.40 332.20Z" fill="#64ab62" stroke="#377f36" stroke-width="0.8"/>
<path d="M368.05 340.40L372.75 340.40L370.40 345.60Z" fill="#64ab62" stroke="#377f36" stroke-width="0.8"/>
<path d="M366.05 343.40L370.75 343.40L368.40 348.60Z" fill="#64ab62" stroke="#377f36" stroke-width="0.8"/>
<path d="M367.65 353.40L372.35 353.40L370.00 358.60Z" fill="#64ab62" stroke="#377f36" stroke-width="0.8"/>
<path d="M366.45 356.40L371.15 356.40L368.80 361.60Z" fill="#64ab62" stroke="#377f36" stroke-width="0.8"/>
<path d="M367.35 357.90L372.05 357.90L369.70 363.10Z" fill="#64ab62" stroke="#377f36" stroke-width="0.8"/>
<path d="M375.25 335.30L379.95 335.30L377.60 340.50Z" fill="#64ab62" stroke="#377f36" stroke-width="0.8"/>
<path d="M376.25 335.90L380.95 335.90L378.60 341.10Z" fill="#64ab62" stroke="#377f36" stroke-width="0.8"/>
<path d="M374.25 338.40L378.95 338.40L376.60 343.60Z" fill="#64ab62" stroke="#377f36" stroke-width="0.8"/>
<path d="M375.85 342.30L380.55 342.30L378.20 347.50Z" fill="#64ab62" stroke="#377f36" stroke-width="0.8"/>
<path d="M383.45 339.00L388.15 339.00L385.80 344.20Z" fill="#64ab62" stroke="#377f36" stroke-width="0.8"/>
<path d="M384.45 352.40L389.15 352.40L386.80 357.60Z" fill="#64ab62" stroke="#377f36" stroke-width="0.8"/>
<path d="M382.45 354.40L387.15 354.40L384.80 359.60Z" fill="#64ab62" stroke="#377f36" stroke-width="0.8"/>
<path d="M384.05 356.40L388.75 356.40L386.40 361.60Z" fill="#64ab62" stroke="#377f36" stroke-width="0.8"/>
<path d="M391.65 347.30L396.35 347.30L394.00 352.50Z" fill="#64ab62" stroke="#377f36" stroke-width="0.8"/>
<path d="M392.65 353.80L397.35 353.80L395.00 359.00Z" fill="#64ab62" stroke="#377f36" stroke-width="0.8"/>
<path d="M390.65 355.40L395.35 355.40L393.00 360.60Z" fill="#64ab62" stroke="#377f36" stroke-width="0.8"/>
<path d="M392.25 356.40L396.95 356.40L394.60 361.60Z" fill="#64ab62" stroke="#377f36" stroke-width="0.8"/>
<path d="M399.85 350.10L404.55 350.10L402.20 355.30Z" fill="#64ab62" stroke="#377f36" stroke-width="0.8"/>
<path d="M400.85 353.90L405.55 353.90L403.20 359.10Z" fill="#64ab62" stroke="#377f36" stroke-width="0.8"/>
<path d="M398.85 355.90L403.55 355.90L401.20 361.10Z" fill="#64ab62" stroke="#377f36" stroke-width="0.8"/>
<path d="M400.45 357.40L405.15 357.40L402.80 362.60Z" fill="#64ab62" stroke="#377f36" stroke-width="0.8"/>
<path d="M418.85 343.60L423.55 343.60L421.20 348.80Z" fill="#b2dcaa" stroke="#3f8a3c" stroke-width="0.8"/>
<path d="M419.85 351.40L424.55 351.40L422.20 356.60Z" fill="#b2dcaa" stroke="#3f8a3c" stroke-width="0.8"/>
<path d="M417.85 354.90L422.55 354.90L420.20 360.10Z" fill="#b2dcaa" stroke="#3f8a3c" stroke-width="0.8"/>
<path d="M419.45 356.90L424.15 356.90L421.80 362.10Z" fill="#b2dcaa" stroke="#3f8a3c" stroke-width="0.8"/>
<path d="M418.25 358.40L422.95 358.40L420.60 363.60Z" fill="#b2dcaa" stroke="#3f8a3c" stroke-width="0.8"/>
<path d="M427.05 337.10L431.75 337.10L429.40 342.30Z" fill="#b2dcaa" stroke="#3f8a3c" stroke-width="0.8"/>
<path d="M428.05 340.40L432.75 340.40L430.40 345.60Z" fill="#b2dcaa" stroke="#3f8a3c" stroke-width="0.8"/>
<path d="M426.05 344.40L430.75 344.40L428.40 349.60Z" fill="#b2dcaa" stroke="#3f8a3c" stroke-width="0.8"/>
<path d="M427.65 353.40L432.35 353.40L430.00 358.60Z" fill="#b2dcaa" stroke="#3f8a3c" stroke-width="0.8"/>
<path d="M426.45 356.90L431.15 356.90L428.80 362.10Z" fill="#b2dcaa" stroke="#3f8a3c" stroke-width="0.8"/>
<path d="M435.25 329.40L439.95 329.40L437.60 334.60Z" fill="#b2dcaa" stroke="#3f8a3c" stroke-width="0.8"/>
<path d="M436.25 338.90L440.95 338.90L438.60 344.10Z" fill="#b2dcaa" stroke="#3f8a3c" stroke-width="0.8"/>
<path d="M434.25 345.90L438.95 345.90L436.60 351.10Z" fill="#b2dcaa" stroke="#3f8a3c" stroke-width="0.8"/>
<path d="M435.85 354.90L440.55 354.90L438.20 360.10Z" fill="#b2dcaa" stroke="#3f8a3c" stroke-width="0.8"/>
<path d="M434.65 358.40L439.35 358.40L437.00 363.60Z" fill="#b2dcaa" stroke="#3f8a3c" stroke-width="0.8"/>
<path d="M443.45 345.40L448.15 345.40L445.80 350.60Z" fill="#b2dcaa" stroke="#3f8a3c" stroke-width="0.8"/>
<path d="M444.45 351.40L449.15 351.40L446.80 356.60Z" fill="#b2dcaa" stroke="#3f8a3c" stroke-width="0.8"/>
<path d="M442.45 355.40L447.15 355.40L444.80 360.60Z" fill="#b2dcaa" stroke="#3f8a3c" stroke-width="0.8"/>
<path d="M444.05 357.40L448.75 357.40L446.40 362.60Z" fill="#b2dcaa" stroke="#3f8a3c" stroke-width="0.8"/>
<path d="M451.65 344.20L456.35 344.20L454.00 349.40Z" fill="#b2dcaa" stroke="#3f8a3c" stroke-width="0.8"/>
<path d="M452.65 353.40L457.35 353.40L455.00 358.60Z" fill="#b2dcaa" stroke="#3f8a3c" stroke-width="0.8"/>
<path d="M450.65 356.40L455.35 356.40L453.00 361.60Z" fill="#b2dcaa" stroke="#3f8a3c" stroke-width="0.8"/>
<path d="M452.25 357.90L456.95 357.90L454.60 363.10Z" fill="#b2dcaa" stroke="#3f8a3c" stroke-width="0.8"/>
<path d="M470.65 336.20L475.35 336.20L473.00 341.40Z" fill="#ffffff" stroke="#7cc477" stroke-width="0.8"/>
<path d="M471.65 341.40L476.35 341.40L474.00 346.60Z" fill="#ffffff" stroke="#7cc477" stroke-width="0.8"/>
<path d="M469.65 354.40L474.35 354.40L472.00 359.60Z" fill="#ffffff" stroke="#7cc477" stroke-width="0.8"/>
<path d="M471.25 356.90L475.95 356.90L473.60 362.10Z" fill="#ffffff" stroke="#7cc477" stroke-width="0.8"/>
<path d="M478.85 331.60L483.55 331.60L481.20 336.80Z" fill="#ffffff" stroke="#7cc477" stroke-width="0.8"/>
<path d="M479.85 349.40L484.55 349.40L482.20 354.60Z" fill="#ffffff" stroke="#7cc477" stroke-width="0.8"/>
<path d="M477.85 353.40L482.55 353.40L480.20 358.60Z" fill="#ffffff" stroke="#7cc477" stroke-width="0.8"/>
<path d="M479.45 356.90L484.15 356.90L481.80 362.10Z" fill="#ffffff" stroke="#7cc477" stroke-width="0.8"/>
<path d="M487.05 334.90L491.75 334.90L489.40 340.10Z" fill="#ffffff" stroke="#7cc477" stroke-width="0.8"/>
<path d="M488.05 350.90L492.75 350.90L490.40 356.10Z" fill="#ffffff" stroke="#7cc477" stroke-width="0.8"/>
<path d="M486.05 354.90L490.75 354.90L488.40 360.10Z" fill="#ffffff" stroke="#7cc477" stroke-width="0.8"/>
<path d="M487.65 356.90L492.35 356.90L490.00 362.10Z" fill="#ffffff" stroke="#7cc477" stroke-width="0.8"/>
<path d="M495.25 324.20L499.95 324.20L497.60 329.40Z" fill="#ffffff" stroke="#7cc477" stroke-width="0.8"/>
<path d="M496.25 353.40L500.95 353.40L498.60 358.60Z" fill="#ffffff" stroke="#7cc477" stroke-width="0.8"/>
<path d="M494.25 355.40L498.95 355.40L496.60 360.60Z" fill="#ffffff" stroke="#7cc477" stroke-width="0.8"/>
<path d="M495.85 357.40L500.55 357.40L498.20 362.60Z" fill="#ffffff" stroke="#7cc477" stroke-width="0.8"/>
<path d="M503.45 341.40L508.15 341.40L505.80 346.60Z" fill="#ffffff" stroke="#7cc477" stroke-width="0.8"/>
<path d="M504.45 350.40L509.15 350.40L506.80 355.60Z" fill="#ffffff" stroke="#7cc477" stroke-width="0.8"/>
<path d="M502.45 354.90L507.15 354.90L504.80 360.10Z" fill="#ffffff" stroke="#7cc477" stroke-width="0.8"/>
<path d="M504.05 356.90L508.75 356.90L506.40 362.10Z" fill="#ffffff" stroke="#7cc477" stroke-width="0.8"/>
<line x1="369.4" y1="338.7" x2="369.4" y2="360" stroke="#161616" stroke-width="0.85" />
<line x1="367.59999999999997" y1="360" x2="371.2" y2="360" stroke="#161616" stroke-width="0.85" />
<line x1="367.59999999999997" y1="338.7" x2="371.2" y2="338.7" stroke="#161616" stroke-width="0.85" />
<line x1="365.59999999999997" y1="349.8" x2="373.2" y2="349.8" stroke="#161616" stroke-width="0.85" />
<line x1="377.59999999999997" y1="337.8" x2="377.59999999999997" y2="341.6" stroke="#161616" stroke-width="0.85" />
<line x1="375.79999999999995" y1="341.6" x2="379.4" y2="341.6" stroke="#161616" stroke-width="0.85" />
<line x1="375.79999999999995" y1="337.8" x2="379.4" y2="337.8" stroke="#161616" stroke-width="0.85" />
<line x1="373.79999999999995" y1="339.7" x2="381.4" y2="339.7" stroke="#161616" stroke-width="0.85" />
<line x1="385.79999999999995" y1="348.3" x2="385.79999999999995" y2="360" stroke="#161616" stroke-width="0.85" />
<line x1="383.99999999999994" y1="360" x2="387.59999999999997" y2="360" stroke="#161616" stroke-width="0.85" />
<line x1="383.99999999999994" y1="348.3" x2="387.59999999999997" y2="348.3" stroke="#161616" stroke-width="0.85" />
<line x1="381.99999999999994" y1="354.4" x2="389.59999999999997" y2="354.4" stroke="#161616" stroke-width="0.85" />
<line x1="394.0" y1="352.6" x2="394.0" y2="358" stroke="#161616" stroke-width="0.85" />
<line x1="392.2" y1="358" x2="395.8" y2="358" stroke="#161616" stroke-width="0.85" />
<line x1="392.2" y1="352.6" x2="395.8" y2="352.6" stroke="#161616" stroke-width="0.85" />
<line x1="390.2" y1="355.4" x2="397.8" y2="355.4" stroke="#161616" stroke-width="0.85" />
<line x1="402.2" y1="352.5" x2="402.2" y2="360" stroke="#161616" stroke-width="0.85" />
<line x1="400.4" y1="360" x2="404.0" y2="360" stroke="#161616" stroke-width="0.85" />
<line x1="400.4" y1="352.5" x2="404.0" y2="352.5" stroke="#161616" stroke-width="0.85" />
<line x1="398.4" y1="356.8" x2="406.0" y2="356.8" stroke="#161616" stroke-width="0.85" />
<line x1="421.2" y1="348" x2="421.2" y2="360" stroke="#161616" stroke-width="0.85" />
<line x1="419.4" y1="360" x2="423.0" y2="360" stroke="#161616" stroke-width="0.85" />
<line x1="419.4" y1="348" x2="423.0" y2="348" stroke="#161616" stroke-width="0.85" />
<line x1="417.4" y1="353.5" x2="425.0" y2="353.5" stroke="#161616" stroke-width="0.85" />
<line x1="429.4" y1="342.4" x2="429.4" y2="356.3" stroke="#161616" stroke-width="0.85" />
<line x1="427.59999999999997" y1="356.3" x2="431.2" y2="356.3" stroke="#161616" stroke-width="0.85" />
<line x1="427.59999999999997" y1="342.4" x2="431.2" y2="342.4" stroke="#161616" stroke-width="0.85" />
<line x1="425.59999999999997" y1="348.9" x2="433.2" y2="348.9" stroke="#161616" stroke-width="0.85" />
<line x1="437.59999999999997" y1="336.2" x2="437.59999999999997" y2="355.7" stroke="#161616" stroke-width="0.85" />
<line x1="435.79999999999995" y1="355.7" x2="439.4" y2="355.7" stroke="#161616" stroke-width="0.85" />
<line x1="435.79999999999995" y1="336.2" x2="439.4" y2="336.2" stroke="#161616" stroke-width="0.85" />
<line x1="433.79999999999995" y1="346.1" x2="441.4" y2="346.1" stroke="#161616" stroke-width="0.85" />
<line x1="445.8" y1="349.8" x2="445.8" y2="359" stroke="#161616" stroke-width="0.85" />
<line x1="444.0" y1="359" x2="447.6" y2="359" stroke="#161616" stroke-width="0.85" />
<line x1="444.0" y1="349.8" x2="447.6" y2="349.8" stroke="#161616" stroke-width="0.85" />
<line x1="442.0" y1="354.4" x2="449.6" y2="354.4" stroke="#161616" stroke-width="0.85" />
<line x1="454.0" y1="351.3" x2="454.0" y2="360" stroke="#161616" stroke-width="0.85" />
<line x1="452.2" y1="360" x2="455.8" y2="360" stroke="#161616" stroke-width="0.85" />
<line x1="452.2" y1="351.3" x2="455.8" y2="351.3" stroke="#161616" stroke-width="0.85" />
<line x1="450.2" y1="355" x2="457.8" y2="355" stroke="#161616" stroke-width="0.85" />
<line x1="473.0" y1="339.7" x2="473.0" y2="360" stroke="#161616" stroke-width="0.85" />
<line x1="471.2" y1="360" x2="474.8" y2="360" stroke="#161616" stroke-width="0.85" />
<line x1="471.2" y1="339.7" x2="474.8" y2="339.7" stroke="#161616" stroke-width="0.85" />
<line x1="469.2" y1="349.4" x2="476.8" y2="349.4" stroke="#161616" stroke-width="0.85" />
<line x1="481.2" y1="338.4" x2="481.2" y2="360" stroke="#161616" stroke-width="0.85" />
<line x1="479.4" y1="360" x2="483.0" y2="360" stroke="#161616" stroke-width="0.85" />
<line x1="479.4" y1="338.4" x2="483.0" y2="338.4" stroke="#161616" stroke-width="0.85" />
<line x1="477.4" y1="349.4" x2="485.0" y2="349.4" stroke="#161616" stroke-width="0.85" />
<line x1="489.4" y1="340.2" x2="489.4" y2="360" stroke="#161616" stroke-width="0.85" />
<line x1="487.59999999999997" y1="360" x2="491.2" y2="360" stroke="#161616" stroke-width="0.85" />
<line x1="487.59999999999997" y1="340.2" x2="491.2" y2="340.2" stroke="#161616" stroke-width="0.85" />
<line x1="485.59999999999997" y1="350.2" x2="493.2" y2="350.2" stroke="#161616" stroke-width="0.85" />
<line x1="497.6" y1="338.7" x2="497.6" y2="360" stroke="#161616" stroke-width="0.85" />
<line x1="495.8" y1="360" x2="499.40000000000003" y2="360" stroke="#161616" stroke-width="0.85" />
<line x1="495.8" y1="338.7" x2="499.40000000000003" y2="338.7" stroke="#161616" stroke-width="0.85" />
<line x1="493.8" y1="351.7" x2="501.40000000000003" y2="351.7" stroke="#161616" stroke-width="0.85" />
<line x1="505.8" y1="348.3" x2="505.8" y2="360" stroke="#161616" stroke-width="0.85" />
<line x1="504.0" y1="360" x2="507.6" y2="360" stroke="#161616" stroke-width="0.85" />
<line x1="504.0" y1="348.3" x2="507.6" y2="348.3" stroke="#161616" stroke-width="0.85" />
<line x1="502.0" y1="354.4" x2="509.6" y2="354.4" stroke="#161616" stroke-width="0.85" />
<line x1="49.0" y1="360.5" x2="224.5" y2="360.5" stroke="#151515" stroke-width="1.25" />
<line x1="267.0" y1="360.5" x2="318" y2="360.5" stroke="#151515" stroke-width="1.25" />
<line x1="362.0" y1="360.5" x2="512.5" y2="360.5" stroke="#151515" stroke-width="1.25" />
<text x="57.60" y="371.2" font-size="7.4" text-anchor="middle" font-weight="normal" fill="#231f20" letter-spacing="0.3">0</text>
<text x="369.40" y="371.2" font-size="7.4" text-anchor="middle" font-weight="normal" fill="#231f20" letter-spacing="0.3">0</text>
<text x="67.25" y="371.2" font-size="7.4" text-anchor="middle" font-weight="normal" fill="#231f20" letter-spacing="0.3">2</text>
<text x="377.60" y="371.2" font-size="7.4" text-anchor="middle" font-weight="normal" fill="#231f20" letter-spacing="0.3">2</text>
<text x="76.90" y="371.2" font-size="7.4" text-anchor="middle" font-weight="normal" fill="#231f20" letter-spacing="0.3">5</text>
<text x="385.80" y="371.2" font-size="7.4" text-anchor="middle" font-weight="normal" fill="#231f20" letter-spacing="0.3">5</text>
<text x="86.55" y="371.2" font-size="7.4" text-anchor="middle" font-weight="normal" fill="#231f20" letter-spacing="0.3">7</text>
<text x="394.00" y="371.2" font-size="7.4" text-anchor="middle" font-weight="normal" fill="#231f20" letter-spacing="0.3">7</text>
<text x="96.20" y="371.2" font-size="7.4" text-anchor="middle" font-weight="normal" fill="#231f20" letter-spacing="0.3">10</text>
<text x="402.20" y="371.2" font-size="7.4" text-anchor="middle" font-weight="normal" fill="#231f20" letter-spacing="0.3">10</text>
<text x="117.80" y="371.2" font-size="7.4" text-anchor="middle" font-weight="normal" fill="#231f20" letter-spacing="0.3">0</text>
<text x="421.20" y="371.2" font-size="7.4" text-anchor="middle" font-weight="normal" fill="#231f20" letter-spacing="0.3">0</text>
<text x="127.45" y="371.2" font-size="7.4" text-anchor="middle" font-weight="normal" fill="#231f20" letter-spacing="0.3">2</text>
<text x="429.40" y="371.2" font-size="7.4" text-anchor="middle" font-weight="normal" fill="#231f20" letter-spacing="0.3">2</text>
<text x="137.10" y="371.2" font-size="7.4" text-anchor="middle" font-weight="normal" fill="#231f20" letter-spacing="0.3">5</text>
<text x="437.60" y="371.2" font-size="7.4" text-anchor="middle" font-weight="normal" fill="#231f20" letter-spacing="0.3">5</text>
<text x="146.75" y="371.2" font-size="7.4" text-anchor="middle" font-weight="normal" fill="#231f20" letter-spacing="0.3">7</text>
<text x="445.80" y="371.2" font-size="7.4" text-anchor="middle" font-weight="normal" fill="#231f20" letter-spacing="0.3">7</text>
<text x="156.40" y="371.2" font-size="7.4" text-anchor="middle" font-weight="normal" fill="#231f20" letter-spacing="0.3">10</text>
<text x="454.00" y="371.2" font-size="7.4" text-anchor="middle" font-weight="normal" fill="#231f20" letter-spacing="0.3">10</text>
<text x="178.00" y="371.2" font-size="7.4" text-anchor="middle" font-weight="normal" fill="#231f20" letter-spacing="0.3">0</text>
<text x="473.00" y="371.2" font-size="7.4" text-anchor="middle" font-weight="normal" fill="#231f20" letter-spacing="0.3">0</text>
<text x="187.65" y="371.2" font-size="7.4" text-anchor="middle" font-weight="normal" fill="#231f20" letter-spacing="0.3">2</text>
<text x="481.20" y="371.2" font-size="7.4" text-anchor="middle" font-weight="normal" fill="#231f20" letter-spacing="0.3">2</text>
<text x="197.30" y="371.2" font-size="7.4" text-anchor="middle" font-weight="normal" fill="#231f20" letter-spacing="0.3">5</text>
<text x="489.40" y="371.2" font-size="7.4" text-anchor="middle" font-weight="normal" fill="#231f20" letter-spacing="0.3">5</text>
<text x="206.95" y="371.2" font-size="7.4" text-anchor="middle" font-weight="normal" fill="#231f20" letter-spacing="0.3">7</text>
<text x="497.60" y="371.2" font-size="7.4" text-anchor="middle" font-weight="normal" fill="#231f20" letter-spacing="0.3">7</text>
<text x="216.60" y="371.2" font-size="7.4" text-anchor="middle" font-weight="normal" fill="#231f20" letter-spacing="0.3">10</text>
<text x="505.80" y="371.2" font-size="7.4" text-anchor="middle" font-weight="normal" fill="#231f20" letter-spacing="0.3">10</text>
<text transform="translate(280.3,366.9) rotate(-45)" font-size="7.5" text-anchor="end" fill="#231f20" letter-spacing="0.35">150</text>
<text transform="translate(296.1,366.9) rotate(-45)" font-size="7.5" text-anchor="end" fill="#231f20" letter-spacing="0.35">500</text>
<text transform="translate(311.9,366.9) rotate(-45)" font-size="7.5" text-anchor="end" fill="#231f20" letter-spacing="0.35">3500</text>
<text transform="translate(136.9,383.6) scale(0.7,1)" font-size="8.9" text-anchor="middle" fill="#231f20" class="ttl">Cryo storage duration (days)</text>
<text transform="translate(437.7,383.6) scale(0.7,1)" font-size="8.9" text-anchor="middle" fill="#231f20" class="ttl">PR-CryoFC storage duration (days)</text>
<text transform="translate(292.6,394.5) scale(0.72,1)" font-size="8.4" text-anchor="middle" fill="#231f20" class="ttl" word-spacing="0.8">Shear rate (s<tspan font-size="4.2" dy="-2.8">-1</tspan><tspan dy="2.8" dx="0.3">)</tspan></text>
<rect x="82.2" y="392.7" width="4.6" height="4.6" fill="#da4352" stroke="#a32534" stroke-width="0.8"/>
<text x="90.6" y="397.5" font-size="6.8" text-anchor="start" font-weight="normal" fill="#231f20" letter-spacing="0.35">150 s<tspan font-size="3.6" dy="-2.6" dx="0.2" letter-spacing="0">−1</tspan></text>
<rect x="122.0" y="392.7" width="4.6" height="4.6" fill="#ec9199" stroke="#b9505e" stroke-width="0.8"/>
<text x="129.6" y="397.5" font-size="6.8" text-anchor="start" font-weight="normal" fill="#231f20" letter-spacing="0.35">500 s<tspan font-size="3.6" dy="-2.6" dx="0.2" letter-spacing="0">−1</tspan></text>
<rect x="158.2" y="392.7" width="4.6" height="4.6" fill="#f7c9ce" stroke="#cf7888" stroke-width="0.8"/>
<text x="165.6" y="397.5" font-size="6.8" text-anchor="start" font-weight="normal" fill="#231f20" letter-spacing="0.35">3500 s<tspan font-size="3.6" dy="-2.6" dx="0.2" letter-spacing="0">−1</tspan></text>
<path d="M383 393.0L387.6 393.0L385.3 397.8Z" fill="#64ab62" stroke="#377f36" stroke-width="0.8"/>
<text x="391.2" y="397.7" font-size="6.8" text-anchor="start" font-weight="normal" fill="#231f20" letter-spacing="0.35">150 s<tspan font-size="3.6" dy="-2.6" dx="0.2" letter-spacing="0">−1</tspan></text>
<path d="M420.3 393.0L424.90000000000003 393.0L422.6 397.8Z" fill="#b2dcaa" stroke="#3f8a3c" stroke-width="0.8"/>
<text x="428.3" y="397.7" font-size="6.8" text-anchor="start" font-weight="normal" fill="#231f20" letter-spacing="0.35">500 s<tspan font-size="3.6" dy="-2.6" dx="0.2" letter-spacing="0">−1</tspan></text>
<path d="M457.8 393.0L462.40000000000003 393.0L460.1 397.8Z" fill="#ffffff" stroke="#7cc477" stroke-width="0.8"/>
<text x="465.7" y="397.7" font-size="6.8" text-anchor="start" font-weight="normal" fill="#231f20" letter-spacing="0.35">3500 s<tspan font-size="3.6" dy="-2.6" dx="0.2" letter-spacing="0">−1</tspan></text>
<rect x="0" y="0" width="520" height="1" fill="#656565"/>
<rect x="0" y="1" width="520" height="1" fill="#e6e6e6"/>
<rect x="0" y="406" width="520" height="1" fill="#5e5e5e"/>
<rect x="0" y="405" width="520" height="1" fill="#a8a8a8"/>
<rect x="0" y="0" width="1" height="407" fill="#626262"/>
<rect x="1" y="1" width="1" height="404" fill="#e2e2e2"/>
<rect x="519" y="0" width="1" height="407" fill="#5e5e5e"/>
<rect x="518" y="1" width="1" height="404" fill="#bdbdbd"/>
</svg>
</body></html>
